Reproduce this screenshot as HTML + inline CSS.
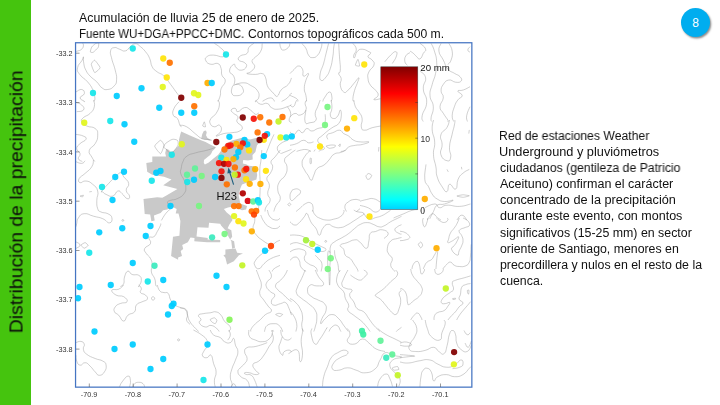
<!DOCTYPE html>
<html><head><meta charset="utf-8"><title>Distribución de la precipitación</title>
<style>
html,body{margin:0;padding:0;background:#fff;}
body{width:720px;height:405px;position:relative;overflow:hidden;font-family:"Liberation Sans",sans-serif;color:#111;}
.bar{position:absolute;left:0;top:0;width:30.8px;height:405px;background:#45C40E;}
.vt{position:absolute;left:0;top:0;white-space:nowrap;transform-origin:0 0;color:#0a0a0a;will-change:transform;}
.ln{position:absolute;white-space:nowrap;transform-origin:0 0;line-height:1;will-change:transform;}
.badge{position:absolute;left:680.7px;top:7.9px;width:29.6px;height:29.6px;border-radius:50%;background:#00ADEF;box-shadow:1.2px 1.6px 2px rgba(0,0,0,.45);}
.badge span{position:absolute;left:0;width:100%;text-align:center;color:#fff;font-size:12px;line-height:1;}
svg{position:absolute;left:0;top:0;will-change:transform;}
svg text{font-family:"Liberation Sans",sans-serif;}
</style></head><body>
<div class="bar"></div>
<div class="vt" style="font-size:18.6px;line-height:1;transform:translate(7.5px,333.26px) rotate(-90deg) scaleX(1.0419);">Distribución de la precipitación</div>
<div class="ln" style="font-size:12.0px;left:79.25px;top:11.75px;transform:scaleX(1.0282);">Acumulación de lluvia 25 de enero de 2025.</div>
<div class="ln" style="font-size:12.0px;left:79.04px;top:28.0px;transform:scaleX(0.9614);">Fuente WU+DGA+PPCC+DMC.</div>
<div class="ln" style="font-size:12.0px;left:247.59px;top:28.0px;transform:scaleX(1.0135);">Contornos topográficos cada 500 m.</div>
<div class="ln" style="font-size:12.3px;left:499.41px;top:129.9px;transform:scaleX(0.9917);">Red de estaciones Weather</div>
<div class="ln" style="font-size:12.3px;left:499.36px;top:146.0px;transform:scaleX(1.0366);">Underground y pluviómetros</div>
<div class="ln" style="font-size:12.3px;left:499.9px;top:162.1px;transform:scaleX(0.9964);">ciudadanos (gentileza de Patricio</div>
<div class="ln" style="font-size:12.3px;left:500.4px;top:178.2px;transform:scaleX(1.0182);">Aceituno) confirman el carácter</div>
<div class="ln" style="font-size:12.3px;left:499.88px;top:194.3px;transform:scaleX(1.0331);">concentrado de la precipitación</div>
<div class="ln" style="font-size:12.3px;left:499.89px;top:210.4px;transform:scaleX(1.0182);">durante este evento, con montos</div>
<div class="ln" style="font-size:12.3px;left:499.9px;top:226.5px;transform:scaleX(1.0058);">significativos (15-25 mm) en sector</div>
<div class="ln" style="font-size:12.3px;left:499.9px;top:242.6px;transform:scaleX(1.0017);">oriente de Santiago, menores en</div>
<div class="ln" style="font-size:12.3px;left:499.65px;top:258.7px;transform:scaleX(1.0052);">precordillera y nulos en el resto de la</div>
<div class="ln" style="font-size:12.3px;left:499.9px;top:274.8px;transform:scaleX(1.0024);">cuenca.</div>
<div class="badge"><span style="top:8.8px">8</span></div>
<svg width="720" height="405" viewBox="0 0 720 405">
<defs><linearGradient id="jet" x1="0" y1="1" x2="0" y2="0"><stop offset="0" stop-color="#00D2FF"/><stop offset="0.067" stop-color="#00FFFF"/><stop offset="0.25" stop-color="#80FF80"/><stop offset="0.44" stop-color="#FFFF00"/><stop offset="0.625" stop-color="#FF8000"/><stop offset="0.813" stop-color="#FF0000"/><stop offset="1" stop-color="#800000"/></linearGradient><clipPath id="cp"><rect x="75.5" y="42.5" width="396.5" height="344.7"/></clipPath></defs>
<g clip-path="url(#cp)">
<path d="M181.2,131.6 L190.0,135.6 L200.4,140.1 L205.6,142.0 L210.1,144.6 L216.0,147.3 L214.6,149.0 L212.4,151.1 L211.3,153.5 L210.2,155.1 L207.6,156.9 L204.0,160.0 L203.8,163.0 L204.9,164.4 L208.4,162.7 L213.8,158.2 L218.2,154.7 L220.9,151.1 L223.0,147.0 L226.0,143.5 L232.0,140.5 L242.0,137.8 L250.0,139.5 L258.9,137.2 L260.9,138.5 L260.2,141.9 L257.0,145.2 L255.4,151.9 L252.5,155.0 L252.7,159.5 L248.0,160.5 L243.2,160.0 L242.8,163.5 L246.0,164.2 L249.0,165.8 L253.5,166.3 L256.0,168.5 L257.2,175.0 L256.4,179.5 L253.7,180.5 L250.3,181.5 L242.0,184.5 L240.3,188.5 L238.6,195.2 L240.3,203.6 L247.0,206.1 L246.1,209.4 L242.0,210.3 L233.1,206.5 L228.0,207.5 L223.9,208.9 L226.7,212.6 L231.0,216.0 L232.5,220.0 L229.4,224.6 L227.6,228.3 L231.3,230.2 L232.2,236.7 L230.0,239.4 L234.1,241.3 L235.0,247.8 L232.2,248.7 L231.3,241.3 L228.5,236.7 L226.0,231.0 L221.1,225.6 L220.2,223.7 L209.1,222.8 L208.5,227.8 L197.5,227.2 L196.5,236.5 L207.8,238.0 L207.5,239.6 L220.2,240.0 L220.2,242.3 L209.6,242.3 L207.2,242.2 L194.3,241.2 L194.5,238.0 L190.5,237.5 L187.8,242.2 L182.2,245.0 L183.2,249.0 L180.7,251.0 L182.0,256.0 L178.1,257.5 L178.1,259.8 L171.1,256.1 L173.0,236.7 L179.4,235.7 L180.4,220.9 L178.5,213.5 L175.7,213.5 L176.7,208.9 L172.0,206.5 L167.3,209.5 L163.1,210.3 L160.6,212.9 L153.9,215.4 L154.7,220.4 L151.4,221.2 L150.2,214.5 L144.7,214.0 L143.5,198.9 L157.2,197.2 L162.3,197.8 L166.4,195.6 L177.4,188.9 L163.2,185.2 L171.5,179.6 L164.0,176.8 L152.2,174.8 L147.2,171.7 L146.3,163.0 L152.3,162.0 L152.3,156.6 L166.0,156.6 L165.2,153.1 L166.2,148.7 L168.6,149.7 L171.0,152.0 L174.0,150.7 L179.0,145.2 L179.0,139.8 L180.4,133.9Z" fill="#C9C9C9"/>
<path d="M201.2,138.4 L202.3,133.9 L203.8,130.9 L206.0,130.5 L206.7,132.4 L206.0,135.3 L207.5,137.9 L210.8,139.8 L210.5,140.7 L205.0,139.4Z" fill="#C9C9C9"/>
<path d="M225.4,249.4 L235.5,248.6 L237.2,252.8 L243.0,253.6 L238.9,255.3 L233.8,261.2 L227.1,264.5 L225.4,257.8 L223.4,255.3 L225.4,254.5Z" fill="#C9C9C9"/>
<g fill="none" stroke="#8a8a8a" stroke-width="0.5" stroke-opacity="0.8" stroke-linejoin="round">
<path d="M83.4,56.8C83.0,57.8 83.5,57.7 81.9,60.6C80.3,63.5 78.1,64.0 77.6,67.7C77.0,71.4 77.0,70.6 79.7,74.4C82.4,78.2 84.2,77.9 87.6,81.9C91.1,86.0 90.7,85.5 92.7,89.5C94.6,93.5 94.4,93.8 94.8,97.0C95.3,100.2 94.4,100.3 94.2,101.5"/>
<path d="M82.4,42.5C82.7,43.4 83.7,44.1 83.4,45.9C83.1,47.7 82.9,48.1 81.4,49.4C79.9,50.7 79.3,50.4 77.9,50.9C76.5,51.4 76.5,51.3 76.0,51.4"/>
<path d="M181.5,98.3C180.4,97.1 180.3,97.4 177.4,93.7C174.5,90.0 174.3,89.2 170.7,84.5C167.1,79.8 167.5,79.4 164.0,76.1C160.4,72.7 160.4,74.3 157.2,71.9C154.1,69.4 154.2,70.4 152.2,66.8C150.2,63.3 151.5,62.5 149.7,58.5C147.9,54.4 148.0,54.9 145.5,51.7C143.0,48.6 143.2,48.9 140.5,46.7C137.8,44.6 138.1,43.7 135.4,43.7C132.8,43.7 133.1,44.8 130.4,46.7C127.7,48.6 128.3,50.2 125.4,50.9C122.5,51.6 122.4,50.1 119.5,49.2C116.6,48.3 116.8,47.1 114.5,47.6C112.1,48.0 111.3,47.8 110.6,50.9C109.9,54.0 110.8,54.4 111.9,59.3C113.1,64.2 113.7,64.0 115.0,69.4C116.2,74.7 116.9,75.0 116.6,79.4C116.4,83.9 116.3,83.5 114.0,86.1C111.6,88.8 111.0,89.0 107.8,89.5C104.5,89.9 104.8,89.8 101.9,87.8C99.0,85.8 100.0,85.1 96.8,81.9C93.7,78.8 93.0,79.2 90.1,76.1C87.2,72.9 87.6,73.6 85.9,70.2C84.2,66.8 84.4,67.1 83.8,63.5C83.1,59.9 83.5,58.6 83.4,56.8"/>
<path d="M91.3,64.2C91.3,63.2 94.0,59.9 94.7,60.2C95.4,60.5 100.1,66.7 100.1,67.7C100.1,68.7 95.4,72.9 94.7,72.6C94.0,72.3 91.3,65.2 91.3,64.2Z"/>
<path d="M90.3,51.9C90.2,51.4 91.3,47.6 91.8,46.9C92.2,46.2 95.1,43.8 95.7,43.5C96.3,43.2 98.5,42.7 98.7,43.0C98.9,43.3 98.7,46.6 98.2,47.4C97.7,48.2 93.9,51.9 93.2,52.3C92.5,52.7 90.4,52.4 90.3,51.9Z"/>
<path d="M75.9,92.0C77.4,91.3 79.5,89.0 81.7,89.5C84.0,89.9 84.7,91.5 84.3,93.7C83.8,95.9 80.1,95.9 80.1,97.9C80.1,99.9 83.3,100.3 84.3,101.2C85.2,102.2 83.8,101.4 83.7,101.5"/>
<path d="M93.5,100.0C93.7,101.8 95.2,103.1 94.3,106.7C93.4,110.3 93.0,110.5 90.1,113.4C87.2,116.3 85.7,115.4 83.4,117.6C81.2,119.9 80.9,119.6 81.7,121.8C82.6,124.0 83.2,124.2 86.8,126.0C90.4,127.8 92.3,126.1 95.2,128.5C98.1,131.0 97.7,131.2 97.7,135.2C97.7,139.3 97.4,139.6 95.2,143.6C92.9,147.7 90.2,146.8 89.3,150.3C88.4,153.9 90.3,154.1 91.8,157.0C93.3,160.0 94.0,160.3 94.8,161.5"/>
<path d="M75.9,102.5C77.4,103.2 79.7,103.0 81.7,105.0C83.8,107.0 84.8,108.3 83.4,110.1C82.1,111.9 78.5,111.3 76.7,111.7"/>
<path d="M75.9,134.4C77.9,134.8 80.7,134.7 83.4,136.1C86.1,137.4 86.8,137.4 85.9,139.4C85.0,141.4 82.5,141.2 80.1,143.6C77.6,146.1 76.7,146.0 76.7,148.7C76.7,151.3 79.6,151.0 80.1,153.7C80.5,156.4 77.8,156.6 78.4,158.7C79.0,160.8 81.2,160.8 82.3,161.5"/>
<path d="M179.1,101.7C177.7,103.5 175.6,104.8 174.0,108.4C172.5,112.0 172.3,112.4 173.2,115.1C174.1,117.8 175.6,115.8 177.4,118.5C179.2,121.1 178.8,123.0 179.9,125.2C181.0,127.4 181.1,126.3 181.5,126.8"/>
<path d="M154.7,146.1C154.7,145.0 159.8,140.3 160.6,140.3C161.4,140.2 164.0,144.2 164.0,145.3C164.0,146.4 161.4,153.6 160.6,153.7C159.8,153.8 154.7,147.3 154.7,146.1Z"/>
<path d="M164.0,146.1C164.6,143.9 166.1,142.9 169.0,141.1C171.9,139.3 172.4,139.0 174.9,139.4C177.3,139.9 178.0,140.3 178.2,142.8C178.4,145.2 177.7,146.0 175.7,148.7C173.7,151.3 173.1,152.6 170.7,152.9C168.2,153.1 168.3,151.3 166.5,149.5C164.7,147.7 163.3,148.4 164.0,146.1Z"/>
<path d="M214.4,43.4C216.0,44.5 217.6,45.1 220.3,47.6C223.0,50.0 223.8,50.1 224.5,52.6C225.1,55.0 225.7,56.1 222.8,56.8C219.9,57.4 217.8,55.1 213.6,55.1C209.3,55.1 208.9,55.2 206.8,56.8C204.8,58.3 204.9,59.0 206.0,61.0C207.1,63.0 207.9,63.7 211.0,64.3C214.2,65.0 215.1,62.4 217.8,63.5C220.4,64.6 220.0,65.4 221.1,68.5C222.2,71.7 220.8,71.9 221.9,75.2C223.1,78.6 225.5,77.5 225.3,81.1C225.1,84.7 222.4,84.9 221.1,88.7C219.8,92.5 221.1,91.9 220.3,95.4C219.4,98.8 218.6,99.9 218.0,101.5"/>
<path d="M253.8,43.4C252.5,44.5 250.6,44.9 248.8,47.6C247.0,50.2 249.4,51.2 247.1,53.4C244.9,55.7 242.6,54.1 240.4,55.9C238.2,57.7 237.6,58.3 238.7,60.1C239.8,61.9 242.6,60.9 244.6,62.7C246.6,64.4 247.2,64.8 246.3,66.8C245.4,68.9 243.9,70.0 241.2,70.2C238.6,70.4 238.2,69.3 236.2,67.7C234.2,66.1 235.5,63.4 233.7,64.3C231.9,65.2 229.5,67.9 229.5,71.0C229.5,74.2 232.3,72.9 233.7,76.1C235.0,79.2 235.0,79.7 234.5,82.8C234.1,85.9 232.7,84.9 232.0,87.8C231.3,90.7 230.9,91.6 232.0,93.7C233.1,95.8 233.5,95.7 236.2,95.7C238.9,95.7 240.3,95.6 242.1,93.7C243.9,91.8 243.8,91.1 242.9,88.7C242.0,86.2 241.2,85.4 238.7,84.5C236.3,83.6 235.0,85.1 233.7,85.3"/>
<path d="M262.2,43.4C261.8,45.6 262.8,47.7 260.5,51.7C258.3,55.8 256.1,55.8 253.8,58.5C251.6,61.1 251.9,59.6 252.1,61.8C252.4,64.0 255.1,64.2 254.7,66.8C254.2,69.5 252.5,70.1 250.5,71.9C248.5,73.7 245.8,72.9 247.1,73.6C248.5,74.2 251.5,74.4 255.5,74.4C259.5,74.4 259.5,72.7 262.2,73.6C264.9,74.5 264.2,74.6 265.6,77.8C266.9,80.9 265.9,81.9 267.2,85.3C268.6,88.7 268.8,88.1 270.6,90.3C272.4,92.6 272.2,92.1 274.0,93.7C275.7,95.3 275.3,97.3 277.3,96.2C279.3,95.1 278.6,92.6 281.5,89.5C284.4,86.4 285.6,87.6 288.2,84.5C290.9,81.4 290.6,79.7 291.5,77.9"/>
<path d="M279.8,43.4C280.1,44.5 279.8,45.8 280.7,47.6C281.6,49.3 281.2,50.1 283.2,50.1C285.2,50.1 286.4,49.3 288.2,47.6C290.0,45.8 289.5,44.5 289.9,43.4"/>
<path d="M235.4,84.5C237.6,84.0 239.7,82.6 243.8,82.8C247.8,83.0 246.9,83.3 250.5,85.3C254.0,87.3 254.9,87.2 257.2,90.3C259.4,93.5 259.3,94.1 258.9,97.0C258.4,100.0 256.3,100.1 255.5,101.2C254.7,102.4 255.8,101.4 255.9,101.5"/>
<path d="M263.0,101.5C263.2,101.2 261.9,101.4 263.9,100.4C265.9,99.4 267.9,97.9 270.6,97.9C273.3,97.9 273.0,99.4 274.0,100.4C275.0,101.4 274.2,101.2 274.3,101.5"/>
<path d="M291.5,93.9C291.3,93.9 291.8,92.6 290.7,93.7C289.6,94.7 289.8,95.8 287.4,97.9C284.9,100.0 283.1,100.5 281.6,101.5"/>
<path d="M301.7,43.4C302.9,44.7 304.1,45.3 305.9,48.4C307.7,51.5 306.7,52.6 308.5,55.1C310.2,57.6 310.2,57.6 312.7,57.6C315.1,57.6 315.4,57.6 317.7,55.1C319.9,52.6 319.9,51.5 321.0,48.4C322.2,45.3 321.7,44.7 321.9,43.4"/>
<path d="M328.6,43.4C327.9,46.0 327.4,48.1 326.1,53.4C324.7,58.8 325.1,58.1 323.6,63.5C322.0,68.9 320.9,69.1 320.2,73.6C319.5,78.0 319.5,79.4 321.0,80.3C322.6,81.2 323.6,80.0 326.1,76.9C328.5,73.8 328.5,73.9 330.3,68.5C332.1,63.2 331.9,62.1 332.8,56.8C333.7,51.4 333.2,52.0 333.6,48.4C334.1,44.8 334.2,44.7 334.5,43.4"/>
<path d="M338.7,43.4C338.9,46.9 339.0,49.6 339.5,56.8C339.9,63.9 340.6,65.7 340.3,70.2C340.1,74.7 338.4,71.3 338.7,73.6C338.9,75.8 340.7,75.5 341.2,78.6C341.6,81.7 339.7,81.7 340.3,85.3C341.0,88.9 341.7,90.7 343.7,92.0C345.7,93.4 345.2,92.6 347.9,90.3C350.6,88.1 350.9,87.0 353.8,83.6C356.7,80.3 357.9,77.8 358.8,77.8C359.7,77.8 358.2,80.3 357.1,83.6C356.0,87.0 355.7,86.3 354.6,90.3C353.5,94.4 353.1,95.7 352.9,98.7C352.7,101.7 353.7,100.8 353.9,101.5"/>
<path d="M352.9,43.4C353.8,44.9 356.1,46.1 356.3,49.2C356.5,52.4 354.2,52.9 353.8,55.1C353.3,57.3 353.7,58.5 354.6,57.6C355.5,56.7 355.1,54.0 357.1,51.7C359.1,49.5 359.0,49.2 362.1,49.2C365.3,49.2 366.6,50.6 368.9,51.7C371.1,52.9 370.8,52.1 370.5,53.4C370.3,54.8 367.6,55.0 368.0,56.8C368.5,58.6 370.6,57.9 372.2,60.1C373.8,62.4 374.8,62.0 373.9,65.2C373.0,68.3 370.4,68.3 368.9,71.9C367.3,75.5 367.6,75.0 368.0,78.6C368.5,82.2 368.5,82.2 370.5,85.3C372.6,88.4 373.6,87.7 375.6,90.3C377.6,93.0 378.5,92.9 378.1,95.4C377.6,97.8 373.2,98.7 373.9,99.6C374.6,100.5 378.8,98.9 380.6,98.7"/>
<path d="M358.0,59.3C358.3,59.4 359.8,65.5 359.6,66.0C359.4,66.5 355.6,65.7 355.4,65.2C355.3,64.6 357.6,59.2 358.0,59.3Z"/>
<path d="M290.0,73.6C291.1,72.4 292.0,71.4 294.2,69.4C296.4,67.3 296.2,66.0 298.4,66.0C300.6,66.0 301.2,66.7 302.6,69.4C303.9,72.0 301.9,75.0 303.4,76.1C305.0,77.2 307.8,72.4 308.5,73.6C309.1,74.7 307.1,76.2 305.9,80.3C304.8,84.3 304.3,84.6 304.3,88.7C304.3,92.7 305.3,91.9 305.9,95.4C306.6,98.8 306.4,99.9 306.6,101.5"/>
<path d="M290.0,95.4C291.8,96.3 294.6,97.1 296.7,98.7C298.8,100.4 297.5,100.8 297.8,101.5"/>
<path d="M322.8,101.5C323.3,100.5 322.6,100.4 324.4,97.9C326.2,95.4 327.4,92.2 329.4,92.0C331.4,91.8 331.5,94.5 331.9,97.0C332.4,99.6 331.4,100.3 331.2,101.5"/>
<path d="M384.8,61.8C386.4,60.0 387.8,57.8 390.7,55.1C393.6,52.4 394.1,51.5 395.7,51.7C397.3,52.0 397.4,52.8 396.5,55.9C395.6,59.1 393.5,61.5 392.3,63.5"/>
<path d="M410.0,52.6C408.8,53.5 407.1,53.5 405.8,55.9C404.4,58.4 404.5,59.4 404.9,61.8C405.4,64.3 406.8,64.3 407.4,65.2"/>
<path d="M420.0,43.3C421.5,44.8 424.7,46.2 425.6,48.9C426.4,51.6 424.8,50.7 423.3,53.3C421.9,56.0 421.8,58.0 420.0,58.9C418.2,59.8 418.4,58.1 416.7,56.7C414.9,55.2 415.1,54.8 413.3,53.3C411.6,51.9 410.9,51.7 410.0,51.1"/>
<path d="M431.1,43.3C432.0,45.4 433.0,46.1 434.4,51.1C435.9,56.1 436.4,56.3 436.7,62.2C437.0,68.1 436.7,67.4 435.6,73.3C434.4,79.3 433.7,78.5 432.2,84.4C430.7,90.4 429.7,89.6 430.0,95.6C430.3,101.5 433.0,100.7 433.3,106.7C433.6,112.6 431.5,113.8 431.1,117.8C430.7,121.7 431.6,120.5 431.8,121.5"/>
<path d="M441.1,43.3C440.5,45.4 438.3,46.7 438.9,51.1C439.5,55.6 441.0,55.3 443.3,60.0C445.7,64.7 444.8,65.3 447.8,68.9C450.7,72.4 451.2,71.3 454.4,73.3C457.7,75.4 458.2,74.6 460.0,76.7C461.8,78.7 462.3,79.6 461.1,81.1C459.9,82.6 458.8,82.5 455.6,82.2C452.3,81.9 452.1,79.4 448.9,80.0C445.6,80.6 445.4,81.5 443.3,84.4C441.3,87.4 441.1,87.6 441.1,91.1C441.1,94.7 443.6,93.6 443.3,97.8C443.0,101.9 440.0,102.5 440.0,106.7C440.0,110.8 441.3,109.8 443.3,113.3C445.4,116.9 446.6,117.8 447.8,120.0C448.9,122.2 447.7,121.1 447.6,121.5"/>
<path d="M448.9,43.3C449.8,45.4 451.6,46.7 452.2,51.1C452.8,55.6 452.3,56.4 451.1,60.0C449.9,63.6 448.7,63.3 447.8,64.4"/>
<path d="M470.0,86.7C468.2,87.6 466.6,88.8 463.3,90.0C460.1,91.2 458.1,89.6 457.8,91.1C457.5,92.6 462.2,93.2 462.2,95.6C462.2,97.9 459.9,97.0 457.8,100.0C455.7,103.0 455.9,102.5 454.4,106.7C453.0,110.8 452.4,111.6 452.2,115.6C452.0,119.5 453.3,119.9 453.7,121.5"/>
<path d="M470.0,46.7C469.4,47.6 467.8,48.5 467.8,50.0C467.8,51.5 469.4,51.6 470.0,52.2"/>
<path d="M420.0,71.1C421.5,72.9 424.7,73.0 425.6,77.8C426.4,82.5 423.0,82.4 423.3,88.9C423.6,95.4 427.0,95.1 426.7,102.2C426.4,109.3 423.1,110.4 422.2,115.6C421.3,120.7 422.9,119.9 423.2,121.5"/>
<path d="M470.0,106.7C469.1,109.0 467.4,111.6 466.7,115.6C466.0,119.5 467.2,119.9 467.4,121.5"/>
<path d="M217.8,100.0C218.2,101.3 219.9,101.5 219.4,105.0C219.0,108.6 218.3,109.8 216.1,113.4C213.8,117.0 212.6,115.8 211.0,118.5C209.5,121.1 209.3,121.3 210.2,123.5C211.1,125.7 211.9,126.4 214.4,126.8C216.9,127.3 217.6,124.0 219.4,125.2C221.2,126.3 222.0,128.1 221.1,131.0C220.2,133.9 215.4,135.4 216.1,136.1C216.7,136.7 219.4,134.5 223.6,133.6C227.9,132.7 227.8,133.4 232.0,132.7C236.3,132.0 236.9,132.6 239.6,131.0C242.2,129.5 242.8,129.3 242.1,126.8C241.4,124.4 238.2,124.5 237.0,121.8C235.9,119.1 238.8,119.0 237.9,116.8C237.0,114.5 235.5,115.2 233.7,113.4C231.9,111.6 230.7,111.4 231.2,110.1C231.6,108.7 233.6,107.9 235.4,108.4C237.2,108.8 235.4,112.0 237.9,111.7C240.3,111.5 241.2,108.0 244.6,107.6C248.0,107.1 247.6,108.3 250.5,110.1C253.4,111.9 253.3,113.6 255.5,114.3C257.7,114.9 258.0,113.0 258.9,112.6"/>
<path d="M180.0,125.2C181.8,125.6 182.7,124.6 186.7,126.8C190.7,129.1 191.1,130.4 195.1,133.6C199.1,136.7 198.5,137.0 201.8,138.6C205.2,140.2 205.0,139.0 207.7,139.4C210.4,139.9 210.8,140.0 211.9,140.3"/>
<path d="M202.7,126.0C202.6,125.6 204.1,121.7 204.3,121.8C204.6,121.9 205.6,126.5 205.5,126.8C205.4,127.2 202.7,126.4 202.7,126.0Z"/>
<path d="M255.5,100.0C256.8,101.1 257.4,103.3 260.5,104.2C263.7,105.1 264.3,102.5 267.2,103.4C270.2,104.3 268.5,106.0 271.4,107.6C274.4,109.1 273.9,109.5 278.2,109.2C282.4,109.0 283.8,107.9 287.4,106.7C290.9,105.5 290.4,105.2 291.5,104.7"/>
<path d="M287.4,106.7C288.3,108.5 290.3,109.8 290.7,113.4C291.2,117.0 288.9,117.7 289.1,120.1C289.3,122.6 290.8,121.9 291.5,122.6"/>
<path d="M291.5,137.7C290.4,138.4 290.3,138.7 287.4,140.3C284.5,141.8 283.4,141.4 280.7,143.6C278.0,145.9 277.3,146.0 277.3,148.7C277.3,151.3 279.7,152.2 280.5,153.5"/>
<path d="M281.2,153.5C283.3,152.7 286.3,151.4 289.1,150.3C291.8,149.2 290.8,149.6 291.5,149.4"/>
<path d="M274.0,134.4C273.1,136.4 272.4,137.7 270.6,141.9C268.8,146.2 268.5,147.3 267.2,150.3C266.0,153.4 266.3,152.7 266.0,153.5"/>
<path d="M290.0,116.8C291.3,115.9 292.3,113.9 295.0,113.4C297.7,113.0 297.2,116.0 300.1,115.1C303.0,114.2 304.6,113.2 305.9,110.1C307.3,106.9 304.9,106.0 305.1,103.4C305.3,100.7 306.3,100.9 306.8,100.0"/>
<path d="M290.0,105.0C290.9,105.5 291.8,107.6 293.4,106.7C294.9,105.8 295.0,103.5 295.9,101.7C296.8,99.9 296.5,100.4 296.7,100.0"/>
<path d="M320.2,100.0C319.5,101.8 319.0,103.1 317.7,106.7C316.3,110.3 315.6,109.8 315.2,113.4C314.7,117.0 317.3,117.7 316.0,120.1C314.7,122.6 313.0,122.2 310.1,122.7C307.2,123.1 306.2,125.2 305.1,121.8C304.0,118.5 305.7,113.2 305.9,110.1"/>
<path d="M290.0,131.9C291.1,132.6 292.0,134.8 294.2,134.4C296.4,133.9 296.2,130.6 298.4,130.2C300.6,129.8 300.3,133.2 302.6,132.7C304.8,132.3 304.3,129.0 306.8,128.5C309.2,128.1 308.9,131.0 311.8,131.0C314.7,131.0 314.6,129.6 317.7,128.5C320.8,127.4 321.5,128.6 323.6,126.8C325.6,125.1 324.8,125.2 325.2,121.8C325.7,118.5 325.2,116.3 325.2,114.3"/>
<path d="M331.1,100.0C331.3,102.2 332.2,104.4 331.9,108.4C331.7,112.4 329.8,112.4 330.3,115.1C330.7,117.8 331.6,118.2 333.6,118.5C335.6,118.7 336.0,118.2 337.8,115.9C339.6,113.7 339.4,109.8 340.3,110.1C341.2,110.3 341.6,113.2 341.2,116.8C340.7,120.4 340.7,120.8 338.7,123.5C336.6,126.2 336.3,125.1 333.6,126.8C330.9,128.6 331.5,128.0 328.6,130.2C325.7,132.4 325.6,132.6 322.7,135.2C319.8,137.9 317.9,137.6 317.7,140.3C317.5,143.0 320.1,143.1 321.9,145.3C323.7,147.5 324.8,147.3 324.4,148.7C323.9,150.0 321.6,149.6 320.2,150.3C318.8,151.1 319.3,151.2 319.0,151.5"/>
<path d="M314.0,151.5 L315.2,149.5"/>
<path d="M327.8,139.4C327.6,138.2 325.9,136.7 327.2,134.9C328.6,133.1 329.5,134.0 332.8,132.7C336.1,131.5 336.6,130.0 339.5,130.2C342.4,130.4 341.2,132.0 343.7,133.6C346.2,135.1 346.0,134.3 348.7,136.1C351.4,137.9 350.6,138.7 353.8,140.3C356.9,141.8 356.4,141.5 360.5,141.9C364.5,142.4 368.4,141.3 368.9,141.9C369.3,142.6 365.7,143.6 362.1,144.5C358.6,145.4 359.0,144.6 355.4,145.3C351.9,146.0 351.4,145.6 348.7,147.0C346.0,148.3 347.5,149.1 345.4,150.3C343.2,151.5 342.0,151.2 340.7,151.5"/>
<path d="M326.1,146.1C326.2,145.9 330.3,145.0 331.1,145.0C331.9,144.9 335.0,145.1 335.3,145.3C335.6,145.5 335.0,147.1 334.5,147.3C334.0,147.6 330.1,148.4 329.4,148.3C328.7,148.2 325.9,146.4 326.1,146.1Z"/>
<path d="M338.7,145.3C338.7,145.1 340.2,143.8 340.3,144.0C340.4,144.1 340.1,146.5 340.0,146.6C339.9,146.8 338.6,145.5 338.7,145.3Z"/>
<path d="M353.8,100.0C354.2,101.8 354.1,103.6 355.4,106.7C356.8,109.8 357.0,108.6 358.8,111.7C360.6,114.9 361.5,114.4 362.1,118.5C362.8,122.5 360.6,123.7 361.3,126.8C362.0,130.0 361.8,130.0 364.7,130.2C367.6,130.4 368.0,128.8 372.2,127.7C376.5,126.6 378.4,126.5 380.6,126.0"/>
<path d="M290.0,145.3C291.8,144.9 293.1,145.0 296.7,143.6C300.3,142.3 300.3,140.5 303.4,140.3C306.6,140.0 305.8,142.3 308.5,142.8C311.1,143.2 312.1,142.2 313.5,141.9"/>
<path d="M296.6,151.5C297.5,151.2 297.6,150.9 300.1,150.3C302.6,149.8 303.3,149.3 305.9,149.5C308.6,149.7 309.1,150.6 310.1,151.2C311.1,151.7 309.8,151.4 309.7,151.5"/>
<path d="M378.9,147.0 L378.5,151.5"/>
<path d="M93.5,160.0C93.0,161.8 94.0,163.1 91.8,166.7C89.6,170.3 88.5,170.3 85.1,173.4C81.7,176.6 80.6,176.0 79.2,178.5C77.9,180.9 78.3,182.0 80.1,182.7C81.9,183.3 82.6,180.5 85.9,181.0C89.3,181.4 89.5,181.6 92.7,184.3C95.8,187.0 96.6,186.8 97.7,191.0C98.8,195.3 96.8,195.6 96.8,200.3C96.8,205.0 96.6,205.5 97.7,208.7C98.8,211.8 98.4,210.7 101.0,212.0C103.7,213.4 104.8,212.1 107.8,213.7C110.7,215.3 111.5,215.4 111.9,217.9C112.4,220.3 111.9,222.7 109.4,222.9C107.0,223.1 107.0,220.5 102.7,218.7C98.5,216.9 98.4,217.6 93.5,216.2C88.6,214.9 88.3,213.2 84.3,213.7C80.2,214.1 80.4,215.2 78.4,217.9C76.4,220.6 77.3,221.5 76.7,223.8C76.1,226.1 76.3,225.8 76.2,226.5"/>
<path d="M75.9,161.7C77.4,162.1 79.3,163.6 81.7,163.4C84.2,163.1 84.2,161.5 85.1,160.8"/>
<path d="M101.9,191.0C103.4,188.8 105.0,187.3 108.6,183.5C112.2,179.7 111.9,179.7 115.3,176.8C118.7,173.9 118.9,172.6 121.2,172.6C123.4,172.6 121.7,173.9 123.7,176.8C125.7,179.7 128.1,179.9 128.7,183.5C129.4,187.1 126.0,186.8 126.2,190.2C126.4,193.6 129.3,193.8 129.6,196.1C129.8,198.3 129.1,199.3 127.0,198.6C125.0,197.9 124.5,195.6 122.0,193.6C119.6,191.5 120.3,190.4 117.8,191.0C115.4,191.7 115.9,195.2 112.8,196.1C109.7,197.0 108.8,195.5 106.1,194.4C103.4,193.3 103.8,192.8 102.7,191.9C101.6,191.0 100.3,193.3 101.9,191.0Z"/>
<path d="M80.1,196.1C80.1,195.9 83.2,195.2 83.4,195.2C83.6,195.3 82.9,196.8 82.6,196.9C82.3,197.0 80.0,196.2 80.1,196.1Z"/>
<path d="M89.3,191.9 L91.8,191.5"/>
<path d="M123.8,220.4C123.8,220.7 123.7,220.8 123.5,221.0C123.2,221.3 123.2,221.3 122.9,221.3C122.5,221.3 122.5,221.3 122.2,221.0C122.0,220.8 122.0,220.7 122.0,220.4C122.0,220.1 122.0,220.0 122.2,219.8C122.5,219.5 122.5,219.5 122.9,219.5C123.2,219.5 123.2,219.5 123.5,219.8C123.7,220.0 123.8,220.1 123.8,220.4Z"/>
<path d="M170.7,208.7C169.3,210.0 168.1,210.6 165.6,213.7C163.2,216.8 162.6,218.6 161.4,220.4"/>
<path d="M214.8,147.6C212.7,148.3 212.3,148.8 207.1,150.2C201.9,151.6 200.8,151.3 195.4,152.9C190.0,154.5 190.4,153.7 187.0,156.1C183.6,158.5 184.3,158.8 182.8,162.0C181.3,165.2 181.9,165.0 181.3,168.0C180.7,171.0 180.0,170.2 180.7,173.4C181.4,176.6 182.7,176.5 184.1,180.1C185.5,183.7 185.8,183.2 185.8,186.8C185.8,190.4 186.3,190.5 184.1,193.6C181.9,196.7 181.0,196.8 177.4,198.6C173.8,200.4 173.3,199.3 170.7,200.3C168.1,201.3 167.6,201.0 167.5,202.5C167.4,204.0 169.7,205.1 170.5,206.0"/>
<path d="M261.8,150.0C261.6,152.7 261.5,154.7 261.0,160.1C260.4,165.4 260.0,163.9 259.8,170.1C259.6,176.4 260.1,176.4 260.1,183.6C260.1,190.7 260.2,190.3 259.8,197.0C259.4,203.7 258.9,204.9 258.5,208.7C258.0,212.6 258.1,210.8 258.0,211.5"/>
<path d="M280.3,150.0C278.9,151.8 277.7,153.6 275.2,156.7C272.8,159.8 271.7,159.1 271.0,161.7C270.4,164.4 272.9,163.6 272.7,166.8C272.5,169.9 271.8,170.4 270.2,173.5C268.6,176.6 267.1,175.4 266.8,178.5C266.6,181.7 269.1,181.2 269.4,185.2C269.6,189.3 267.5,189.6 267.7,193.6C267.9,197.7 270.6,196.8 270.2,200.3C269.8,203.9 267.4,204.1 266.0,207.0C264.6,210.0 265.3,210.3 265.0,211.5"/>
<path d="M295.4,150.0C293.6,151.3 291.6,152.3 288.7,155.0C285.7,157.7 284.9,156.9 284.5,160.1C284.0,163.2 286.8,162.8 287.0,166.8C287.2,170.8 287.3,171.1 285.3,175.2C283.3,179.2 281.4,177.9 279.4,181.9C277.4,185.9 277.5,185.8 277.8,190.3C278.0,194.7 280.7,194.6 280.3,198.7C279.8,202.7 277.8,201.9 276.1,205.4C274.3,208.8 274.4,209.9 273.8,211.5"/>
<path d="M310.5,150.0C308.9,151.8 306.8,153.1 304.6,156.7C302.4,160.3 302.1,159.8 302.1,163.4C302.1,167.0 303.0,167.0 304.6,170.1C306.2,173.3 306.2,172.5 308.0,175.2C309.7,177.9 309.7,180.2 311.3,180.2C312.9,180.2 312.3,178.3 313.8,175.2C315.4,172.0 314.5,171.1 317.2,168.5C319.9,165.8 320.8,167.3 323.9,165.1C327.0,162.9 326.2,163.0 328.9,160.1C331.6,157.2 330.8,156.2 334.0,154.2C337.1,152.2 337.5,153.6 340.7,152.5C343.8,151.4 344.4,150.7 345.7,150.0"/>
<path d="M310.1,158.4C310.2,158.0 311.2,158.0 311.3,158.4C311.4,158.8 311.4,163.0 311.3,163.4C311.2,163.8 310.2,163.8 310.1,163.4C310.0,163.0 310.0,158.8 310.1,158.4Z"/>
<path d="M291.2,191.9C292.2,190.2 291.7,190.1 293.7,189.4C295.7,188.8 296.9,188.5 298.7,189.4C300.5,190.3 300.9,191.0 300.4,192.8C300.0,194.6 298.8,194.4 297.0,196.1C295.3,197.9 295.3,198.4 293.7,199.5C292.1,200.6 292.2,201.2 291.2,200.3C290.2,199.4 290.0,198.4 290.0,196.1C290.0,193.9 290.2,193.7 291.2,191.9Z"/>
<path d="M287.8,204.5C287.8,204.3 289.2,202.9 289.5,202.9C289.7,202.9 290.9,204.3 290.8,204.5C290.8,204.8 289.4,205.9 289.2,205.9C288.9,205.9 287.8,204.8 287.8,204.5Z"/>
<path d="M296.1,211.5C297.2,210.5 297.9,210.0 300.4,207.9C302.9,205.8 302.8,205.0 305.4,203.7C308.1,202.3 308.5,202.0 310.5,202.9C312.5,203.7 312.5,204.7 313.0,207.0C313.5,209.4 312.6,210.3 312.4,211.5"/>
<path d="M360.0,200.3C358.4,200.1 357.2,199.0 354.1,199.5C351.0,199.9 350.7,200.2 348.2,202.0C345.8,203.8 345.4,203.7 344.9,206.2C344.4,208.7 346.0,210.1 346.4,211.5"/>
<path d="M360.0,208.7 L356.5,211.5"/>
<path d="M365.9,176.0C365.9,175.5 367.9,173.6 368.4,173.5C368.9,173.4 371.6,174.7 371.7,175.2C371.9,175.6 370.4,178.2 370.1,178.5C369.7,178.9 367.9,179.6 367.6,179.4C367.2,179.2 365.8,176.5 365.9,176.0Z"/>
<path d="M360.0,201.2C361.8,200.7 363.1,200.2 366.7,199.5C370.3,198.8 369.8,198.0 373.4,198.7C377.0,199.3 378.3,201.1 380.1,202.0"/>
<path d="M360.0,205.4C362.2,206.0 364.4,206.1 368.4,207.9C372.4,209.7 372.0,211.6 375.1,212.1C378.2,212.5 378.8,210.2 380.1,209.6"/>
<path d="M393.6,218.0C396.2,216.8 398.7,215.8 403.6,213.8C408.5,211.7 408.2,211.5 412.0,210.4C415.8,209.3 416.3,209.8 417.9,209.6"/>
<path d="M160.8,223.5C160.6,224.1 161.2,223.6 160.3,225.8C159.3,228.0 158.9,228.8 157.2,231.7C155.5,234.6 156.1,235.2 153.9,236.7C151.7,238.3 149.8,235.8 148.9,237.6C148.0,239.4 151.7,240.5 150.5,243.5C149.4,246.4 145.8,245.8 144.7,248.5C143.5,251.2 144.8,250.8 146.3,253.5C147.9,256.2 149.0,255.4 150.5,258.6C152.1,261.7 152.0,261.7 152.2,265.3C152.4,268.8 150.7,268.4 151.4,272.0C152.0,275.6 153.6,275.3 154.7,278.7C155.9,282.0 155.1,282.5 155.6,284.6C156.1,286.6 156.4,286.0 156.7,286.5"/>
<path d="M75.9,241.8C77.0,242.7 80.1,243.3 80.1,245.1C80.1,246.9 77.0,247.6 75.9,248.5"/>
<path d="M80.9,245.1C81.0,244.7 84.5,242.6 85.1,242.6C85.7,242.6 88.2,245.0 88.1,245.5C88.1,245.9 84.9,248.2 84.3,248.2C83.7,248.1 80.8,245.6 80.9,245.1Z"/>
<path d="M120.4,286.5C121.2,285.8 122.6,286.3 123.7,283.7C124.8,281.2 123.4,280.4 124.5,277.0C125.6,273.7 125.9,271.8 127.9,271.1C129.9,270.5 129.2,273.4 132.1,274.5C135.0,275.6 136.3,273.8 138.8,275.3C141.3,276.9 141.3,277.5 141.3,280.4C141.3,283.3 139.4,284.6 138.8,286.2C138.1,287.9 138.8,286.4 138.9,286.5"/>
<path d="M290.0,221.7C291.3,222.6 292.3,225.1 295.0,225.1C297.7,225.1 297.6,224.0 300.1,221.7C302.5,219.5 302.5,218.9 304.3,216.7C306.1,214.5 305.4,212.9 306.8,213.4C308.1,213.8 308.0,215.7 309.3,218.4C310.6,221.1 310.0,220.7 311.8,223.4C313.6,226.1 314.0,225.3 316.0,228.5C318.0,231.6 317.6,235.2 319.4,235.2C321.2,235.2 320.5,231.4 322.7,228.5C325.0,225.5 324.8,224.7 327.8,224.3C330.7,223.8 330.3,225.9 333.6,226.8C337.0,227.7 336.8,228.1 340.3,227.6C343.9,227.2 343.5,226.9 347.0,225.1C350.6,223.3 350.6,222.9 353.8,220.9C356.9,218.9 356.1,219.6 358.8,217.6C361.5,215.5 364.3,214.9 363.8,213.4C363.4,211.8 359.8,212.6 357.1,211.7C354.4,210.8 354.7,210.4 353.8,210.0"/>
<path d="M312.7,210.0C313.3,211.3 313.2,212.8 315.2,215.0C317.2,217.3 317.1,217.0 320.2,218.4C323.3,219.7 323.3,219.8 326.9,220.1C330.5,220.3 330.0,220.1 333.6,219.2C337.2,218.3 337.7,218.5 340.3,216.7C343.0,214.9 342.8,214.3 343.7,212.5C344.6,210.7 343.7,210.7 343.7,210.0"/>
<path d="M290.0,235.2C291.8,235.2 293.1,234.7 296.7,235.2C300.3,235.6 299.8,235.3 303.4,236.8C307.0,238.4 306.6,239.0 310.1,241.0C313.7,243.1 313.5,242.7 316.8,244.4C320.2,246.1 320.3,246.0 322.7,247.2C325.1,248.5 325.3,247.9 325.7,248.9C326.2,250.0 326.1,250.5 324.4,251.1C322.7,251.7 322.3,251.6 319.4,251.1C316.5,250.7 316.8,250.8 313.5,249.4C310.1,248.1 310.4,247.6 306.8,246.1C303.2,244.5 303.2,244.5 300.1,243.6C296.9,242.7 297.7,242.5 295.0,242.7C292.3,242.9 291.3,243.9 290.0,244.4"/>
<path d="M330.3,252.8C330.4,251.0 329.5,249.0 330.6,246.1C331.7,243.2 331.4,244.1 334.5,241.9C337.5,239.6 338.2,239.9 342.0,237.7C345.8,235.4 345.4,236.0 348.7,233.5C352.1,231.0 351.5,230.9 354.6,228.5C357.7,226.0 357.1,225.8 360.5,224.3C363.8,222.7 363.8,222.6 367.2,222.6C370.5,222.6 369.9,223.1 373.1,224.3C376.2,225.4 376.0,226.3 378.9,226.8C381.8,227.2 380.8,227.3 384.0,225.9C387.1,224.6 387.1,223.8 390.7,221.7C394.3,219.7 394.5,219.8 397.4,218.4C400.3,216.9 400.4,216.9 401.5,216.3"/>
<path d="M363.8,213.4C365.2,214.9 365.7,218.1 368.9,219.2C372.0,220.3 372.2,218.4 375.6,217.6C378.9,216.7 378.3,217.2 381.4,215.9C384.6,214.5 384.9,214.1 387.3,212.5C389.8,211.0 389.8,210.7 390.7,210.0"/>
<path d="M384.0,238.5C385.1,237.2 388.6,235.8 388.2,233.5C387.7,231.2 385.6,230.3 382.3,229.8C378.9,229.3 378.8,230.5 375.6,231.5C372.3,232.5 372.0,230.9 370.2,233.5C368.4,236.0 369.9,237.1 368.9,241.0C367.8,245.0 368.8,248.0 366.3,248.3C363.9,248.5 362.8,244.1 359.6,241.9C356.5,239.6 358.0,239.6 354.6,239.9C351.2,240.1 350.9,241.3 347.0,242.7C343.2,244.1 341.2,243.4 340.3,245.2C339.4,247.0 342.3,246.7 343.7,249.4C345.0,252.1 343.6,252.8 345.4,255.3C347.2,257.8 348.2,256.4 350.4,258.7C352.6,260.9 352.0,261.0 353.8,263.7C355.5,266.4 356.0,266.6 357.1,268.7C358.3,270.8 357.8,270.8 358.0,271.5"/>
<path d="M401.5,224.7C400.4,225.3 399.2,225.3 397.4,226.8C395.6,228.2 394.4,228.3 394.9,230.1C395.3,231.9 397.3,232.4 399.1,233.5C400.8,234.5 400.8,233.9 401.5,234.1"/>
<path d="M401.5,237.5C400.4,237.8 400.3,237.6 397.4,238.5C394.5,239.5 393.4,238.4 390.7,241.0C388.0,243.7 387.8,245.0 387.3,248.6C386.9,252.2 387.7,251.8 389.0,254.5C390.3,257.1 391.9,255.7 392.3,258.7C392.8,261.6 390.2,262.2 390.7,265.4C391.1,268.5 393.0,268.8 394.0,270.4C395.1,272.0 394.4,271.2 394.5,271.5"/>
<path d="M290.0,251.9C291.3,251.3 291.9,250.1 295.0,249.4C298.2,248.8 298.8,248.5 301.7,249.4C304.7,250.3 305.3,250.3 305.9,252.8C306.6,255.2 303.6,255.7 304.3,258.7C304.9,261.6 305.5,261.5 308.5,263.7C311.4,265.9 312.8,265.0 315.2,267.0C317.6,269.1 316.8,270.3 317.4,271.5"/>
<path d="M290.0,260.3C291.3,259.4 292.6,257.0 295.0,257.0C297.5,257.0 297.7,257.7 299.2,260.3C300.8,263.0 299.1,264.1 300.9,267.0C302.7,270.0 304.7,270.3 306.1,271.5"/>
<path d="M321.1,271.5C321.3,269.4 322.6,267.1 321.9,263.7C321.2,260.3 320.3,260.9 318.5,258.7C316.7,256.4 316.1,256.2 315.2,255.3"/>
<path d="M328.1,271.5C328.0,266.7 327.2,258.3 327.8,253.6C328.3,248.9 329.7,250.8 330.3,254.0C330.9,257.1 330.2,260.7 329.9,265.4C329.7,270.0 329.6,269.9 329.4,271.5"/>
<path d="M334.5,250.3C334.7,252.1 334.4,253.4 335.3,257.0C336.2,260.6 336.9,260.1 337.8,263.7C338.7,267.3 338.1,268.3 338.7,270.4C339.2,272.5 339.5,271.2 339.8,271.5"/>
<path d="M326.6,241.4C326.6,241.7 326.6,241.8 326.4,242.0C326.1,242.3 326.1,242.3 325.7,242.3C325.4,242.3 325.3,242.3 325.1,242.0C324.9,241.8 324.8,241.7 324.8,241.4C324.8,241.0 324.9,241.0 325.1,240.7C325.3,240.5 325.4,240.5 325.7,240.5C326.1,240.5 326.1,240.5 326.4,240.7C326.6,241.0 326.6,241.0 326.6,241.4Z"/>
<path d="M254.0,210.0C254.2,212.7 255.0,215.1 254.8,220.1C254.6,225.0 252.7,224.4 253.1,228.5C253.6,232.5 254.0,232.0 256.5,235.2C258.9,238.3 259.4,238.0 262.3,240.2C265.3,242.4 264.9,242.0 267.4,243.6C269.8,245.1 270.5,245.4 271.6,246.1"/>
<path d="M260.7,215.0C261.6,216.8 261.8,218.6 264.0,221.7C266.3,224.9 265.9,225.0 269.1,226.8C272.2,228.6 272.9,228.7 275.8,228.5C278.7,228.2 278.8,226.6 280.0,225.9"/>
<path d="M267.4,210.0C268.1,211.8 267.7,214.0 269.9,216.7C272.1,219.4 273.1,219.6 275.8,220.1C278.5,220.5 278.8,218.8 280.0,218.4"/>
<path d="M280.0,240.2C278.4,241.1 277.0,240.9 274.1,243.6C271.2,246.2 272.2,247.6 269.1,250.3C265.9,253.0 265.9,250.9 262.3,253.6C258.8,256.3 257.7,257.2 255.6,260.3C253.6,263.5 253.9,263.1 254.8,265.4C255.7,267.6 256.5,269.2 259.0,268.7C261.5,268.3 260.9,266.4 264.0,263.7C267.2,261.0 266.5,260.9 270.7,258.7C275.0,256.4 277.5,256.2 280.0,255.3"/>
<path d="M280.0,265.4C278.4,266.3 276.2,267.1 274.1,268.7C272.0,270.4 272.7,270.8 272.2,271.5"/>
<path d="M256.3,270.0C257.0,271.8 257.5,272.7 258.9,276.7C260.2,280.7 261.2,280.6 261.4,285.1C261.6,289.6 259.0,289.5 259.7,293.5C260.4,297.5 261.7,296.8 263.9,300.2C266.1,303.6 266.1,303.2 268.1,306.1C270.1,309.0 272.1,308.9 271.4,311.1C270.8,313.3 268.5,312.2 265.6,314.5C262.7,316.7 263.2,317.0 260.5,319.5C257.9,322.0 258.0,321.2 255.5,323.7C253.0,326.2 252.6,326.6 251.3,328.7C250.1,330.8 250.9,330.8 250.8,331.5"/>
<path d="M268.9,270.0C269.6,271.8 271.9,273.6 271.4,276.7C271.0,279.8 268.6,279.1 267.2,281.7C265.9,284.4 265.5,284.1 266.4,286.8C267.3,289.5 268.4,289.6 270.6,291.8C272.8,294.0 274.6,292.7 274.8,295.2C275.0,297.6 271.7,298.4 271.4,301.0C271.2,303.7 271.5,304.6 274.0,305.2C276.4,305.9 277.5,304.2 280.7,303.6C283.8,302.9 283.5,301.4 285.7,302.7C287.9,304.1 287.5,305.3 289.1,308.6C290.6,311.9 290.8,313.4 291.5,315.1"/>
<path d="M287.4,270.0C286.7,271.3 286.7,272.3 284.9,275.0C283.1,277.7 283.1,277.4 280.7,280.1C278.2,282.8 276.3,282.4 275.6,285.1C275.0,287.8 276.4,287.9 278.2,290.1C279.9,292.4 279.9,291.3 282.3,293.5C284.8,295.7 284.9,296.4 287.4,298.5C289.8,300.7 290.4,300.8 291.5,301.6"/>
<path d="M275.6,314.5C275.6,314.2 278.4,313.3 279.0,313.3C279.6,313.3 282.6,314.2 282.7,314.5C282.8,314.7 280.4,316.6 279.8,316.6C279.2,316.6 275.7,314.7 275.6,314.5Z"/>
<path d="M180.0,307.8C181.6,308.2 183.9,307.4 185.9,309.4C187.9,311.4 186.4,311.9 187.6,315.3C188.7,318.7 187.8,318.4 190.1,322.0C192.3,325.6 193.6,326.2 195.9,328.7C198.2,331.3 198.0,330.8 198.7,331.5"/>
<path d="M228.9,331.5C229.2,330.3 231.5,329.8 230.3,327.0C229.2,324.3 226.9,324.3 224.5,321.2C222.0,318.0 223.3,317.8 221.1,315.3C218.9,312.8 219.0,312.6 216.1,311.9C213.2,311.3 213.6,312.3 210.2,312.8C206.8,313.2 206.6,313.0 203.5,313.6C200.4,314.3 199.1,313.7 198.5,315.3C197.8,316.9 200.7,317.5 201.0,319.5C201.2,321.5 198.2,320.8 199.3,322.9C200.4,324.9 202.0,326.4 205.2,327.0C208.3,327.7 207.9,324.9 211.0,325.4C214.2,325.8 214.8,327.1 216.9,328.7C219.1,330.4 218.5,330.8 219.1,331.5"/>
<path d="M210.2,319.5C210.4,319.1 213.8,317.7 214.4,317.8C215.0,317.9 216.8,319.8 216.9,320.3C217.0,320.8 215.7,323.6 215.2,323.7C214.8,323.8 212.3,322.4 211.9,322.0C211.5,321.7 210.0,319.8 210.2,319.5Z"/>
<path d="M264.9,331.5C264.8,331.2 264.1,332.0 264.7,330.4C265.4,328.8 264.8,327.2 267.2,325.4C269.7,323.6 270.8,323.7 274.0,323.7C277.1,323.7 276.8,323.6 279.0,325.4C281.2,327.2 281.5,328.8 282.3,330.4C283.2,332.0 282.2,331.2 282.1,331.5"/>
<path d="M271.5,331.5C271.9,331.2 272.6,330.4 273.1,330.4C273.7,330.4 273.4,331.2 273.6,331.5"/>
<path d="M315.2,270.0C316.1,271.8 316.3,272.9 318.5,276.7C320.8,280.5 324.0,281.8 323.6,284.3C323.1,286.7 320.4,285.7 316.8,285.9C313.3,286.2 312.6,283.5 310.1,285.1C307.7,286.7 307.2,288.7 307.6,291.8C308.1,294.9 308.9,294.6 311.8,296.8C314.7,299.1 315.2,298.4 318.5,300.2C321.9,302.0 322.4,300.9 324.4,303.6C326.4,306.2 326.7,306.2 326.1,310.3C325.4,314.3 323.2,315.1 321.9,318.7C320.5,322.2 320.1,323.7 321.0,323.7C321.9,323.7 322.3,321.1 325.2,318.7C328.1,316.2 328.4,314.5 331.9,314.5C335.5,314.5 335.5,315.7 338.7,318.7C341.8,321.6 341.1,321.9 343.7,325.4C346.3,328.8 347.1,329.9 348.3,331.5"/>
<path d="M340.3,270.0C339.4,271.8 337.7,272.7 337.0,276.7C336.3,280.7 336.0,281.1 337.8,285.1C339.6,289.1 341.7,288.2 343.7,291.8C345.7,295.4 344.0,294.9 345.4,298.5C346.7,302.1 348.1,302.1 348.7,305.2C349.4,308.4 346.5,307.6 347.9,310.3C349.2,313.0 350.4,312.6 353.8,315.3C357.1,318.0 357.3,317.7 360.5,320.3C363.6,323.0 362.9,322.4 365.5,325.4C368.1,328.3 368.9,329.9 370.1,331.5"/>
<path d="M347.9,270.0C346.8,272.2 345.3,274.4 343.7,278.4C342.1,282.4 341.3,282.4 342.0,285.1C342.7,287.8 343.5,287.1 346.2,288.5C348.9,289.8 351.2,288.3 352.1,290.1C353.0,291.9 349.1,292.0 349.6,295.2C350.0,298.3 351.7,298.3 353.8,301.9C355.8,305.5 354.4,305.9 357.1,308.6C359.8,311.3 360.7,309.3 363.8,311.9C367.0,314.6 366.2,315.1 368.9,318.7C371.5,322.2 370.9,321.9 373.9,325.4C376.9,328.8 378.4,329.9 380.0,331.5"/>
<path d="M363.8,270.0C364.7,270.9 367.2,271.3 367.2,273.4C367.2,275.4 365.6,275.8 363.8,277.6C362.0,279.3 362.7,279.8 360.5,280.1C358.2,280.3 358.1,279.7 355.4,278.4C352.8,277.0 351.7,275.9 350.4,275.0"/>
<path d="M305.1,270.0C304.2,272.2 303.8,273.9 301.7,278.4C299.7,282.9 298.9,282.8 297.6,286.8C296.2,290.8 295.6,290.4 296.7,293.5C297.8,296.6 298.6,295.8 301.7,298.5C304.9,301.2 304.9,300.4 308.5,303.6C312.0,306.7 312.9,306.2 315.2,310.3C317.4,314.3 316.8,314.2 316.8,318.7C316.8,323.1 316.0,323.6 315.2,327.0C314.4,330.5 314.2,330.3 313.8,331.5"/>
<path d="M290.0,298.5C291.3,299.4 292.3,299.2 295.0,301.9C297.7,304.6 298.1,304.6 300.1,308.6C302.1,312.6 302.1,312.5 302.6,317.0C303.0,321.5 301.5,321.5 301.7,325.4C302.0,329.2 303.1,329.9 303.6,331.5"/>
<path d="M290.0,311.9C290.9,312.8 291.6,312.2 293.4,315.3C295.1,318.4 296.0,319.4 296.7,323.7C297.4,328.0 296.1,329.4 295.9,331.5"/>
<path d="M395.7,270.0C396.2,271.3 398.7,271.9 397.4,275.0C396.0,278.2 394.3,278.2 390.7,281.7C387.1,285.3 387.5,285.3 384.0,288.5C380.4,291.6 379.5,291.5 377.2,293.5C375.0,295.5 374.7,294.4 375.6,296.0C376.5,297.6 377.9,296.9 380.6,299.4C383.3,301.8 383.0,302.1 385.6,305.2C388.3,308.4 388.0,308.6 390.7,311.1C393.4,313.6 393.5,315.1 395.7,314.5C397.9,313.8 397.7,312.4 399.1,308.6C400.4,304.8 400.7,304.2 400.7,300.2C400.7,296.2 398.9,296.1 399.1,293.5C399.3,290.9 400.8,291.3 401.5,290.4"/>
<path d="M401.5,327.3C400.4,328.1 398.8,329.3 397.4,330.4C396.0,331.5 396.6,331.2 396.3,331.5"/>
<path d="M328.9,270.0C329.1,274.0 329.2,285.1 329.6,285.1C330.0,285.1 330.1,274.0 330.3,270.0"/>
<path d="M329.0,331.5C329.8,330.3 329.8,328.7 331.9,327.0C334.1,325.4 334.7,324.5 337.0,325.4C339.2,326.3 339.3,328.8 340.3,330.4C341.4,332.0 340.7,331.2 340.8,331.5"/>
<path d="M410.7,269.0C411.2,270.7 410.7,271.9 412.6,275.3C414.4,278.7 415.3,278.6 417.6,281.6C420.0,284.6 420.2,283.9 421.4,286.6C422.6,289.3 422.7,289.0 422.0,291.7C421.4,294.4 421.1,294.4 418.9,296.7C416.7,299.1 416.4,298.5 413.9,300.5C411.3,302.5 411.1,303.6 409.4,304.3C407.8,304.9 408.4,305.7 407.6,303.0C406.7,300.3 407.6,297.9 406.3,294.2C405.0,290.5 404.2,290.5 402.5,289.2C400.8,287.8 400.7,289.2 400.0,289.2"/>
<path d="M420.2,269.0C420.5,270.3 420.4,273.4 421.4,274.0C422.4,274.7 423.1,272.9 423.9,271.5C424.8,270.2 424.4,269.7 424.6,269.0"/>
<path d="M434.6,269.0C435.1,270.3 434.7,273.0 436.5,274.0C438.4,275.0 439.7,274.1 441.6,272.8C443.4,271.4 442.9,270.0 443.5,269.0"/>
<path d="M470.5,275.9C468.8,276.4 468.3,276.6 464.2,277.8C460.2,279.0 458.6,279.0 455.4,280.3C452.2,281.7 452.8,280.5 452.3,282.9C451.8,285.2 454.0,286.6 453.5,289.2C453.0,291.7 452.4,290.6 450.4,292.3C448.4,294.0 448.2,293.6 446.0,295.4C443.8,297.3 443.4,297.2 442.2,299.2C441.0,301.2 440.7,301.8 441.6,303.0C442.4,304.2 443.2,303.8 445.3,303.6C447.5,303.5 449.1,301.7 449.7,302.4C450.4,303.0 449.4,304.0 447.9,306.2C446.3,308.3 446.8,308.9 444.1,310.6C441.4,312.2 440.3,311.1 437.8,312.5C435.3,313.8 435.6,313.6 434.6,315.6C433.6,317.6 434.2,318.8 434.0,320.0"/>
<path d="M470.5,283.5C469.2,283.8 467.8,283.7 465.5,284.7C463.1,285.8 463.1,284.7 461.7,287.3C460.4,289.8 461.1,291.0 460.5,294.2C459.8,297.4 458.5,296.9 459.2,299.2C459.9,301.6 463.0,301.0 463.0,303.0C463.0,305.0 461.2,304.4 459.2,306.8C457.2,309.1 457.4,309.5 455.4,311.8C453.4,314.2 453.7,313.4 451.6,315.6C449.6,317.8 448.9,318.8 447.9,320.0"/>
<path d="M470.5,301.7C469.7,302.8 469.4,303.2 467.4,305.5C465.4,307.9 465.2,307.9 463.0,310.6C460.8,313.2 460.9,313.1 459.2,315.6C457.5,318.1 457.3,318.8 456.7,320.0"/>
<path d="M467.4,290.4C467.5,290.2 468.9,289.8 469.0,290.2C469.1,290.5 468.8,294.0 468.6,294.2C468.5,294.4 467.7,293.2 467.6,292.9C467.5,292.6 467.3,290.6 467.4,290.4Z"/>
<path d="M452.6,298.6C452.9,298.5 455.2,298.2 455.4,298.2C455.6,298.3 455.6,299.1 455.4,299.2C455.2,299.3 453.1,299.5 452.9,299.5C452.7,299.4 452.4,298.7 452.6,298.6Z"/>
<path d="M410.7,320.0C411.5,318.8 412.0,317.4 413.9,315.6C415.7,313.8 415.8,312.7 417.6,313.1C419.5,313.4 419.6,315.0 420.8,316.9C422.0,318.7 421.7,319.2 422.0,320.0"/>
<path d="M400.0,231.2C401.3,231.6 402.7,231.3 405.0,232.5C407.4,233.7 407.6,234.1 408.8,235.6C410.0,237.1 410.5,237.0 409.4,238.2C408.4,239.3 407.6,239.4 405.0,240.0C402.5,240.7 401.3,240.5 400.0,240.7"/>
<path d="M423.3,218.0C423.1,219.0 422.3,219.4 422.7,221.8C423.0,224.1 423.4,226.8 424.6,226.8C425.7,226.8 426.2,224.1 427.1,221.8C427.9,219.4 427.5,219.0 427.7,218.0"/>
<path d="M436.5,218.0C437.5,218.8 438.1,220.0 440.3,221.1C442.5,222.3 442.7,222.7 444.7,222.4C446.7,222.1 447.2,221.1 447.9,219.9C448.5,218.7 447.4,218.5 447.2,218.0"/>
<path d="M459.2,218.0C458.7,219.3 458.6,220.4 457.3,223.0C456.0,225.7 456.0,225.4 454.2,228.1C452.3,230.8 451.9,230.1 450.4,233.1C448.9,236.1 449.2,236.9 448.5,239.4C447.8,241.9 447.0,242.1 447.9,242.6C448.7,243.1 449.6,242.3 451.6,241.3C453.7,240.3 453.6,240.0 455.4,238.8C457.3,237.6 458.2,236.1 458.6,236.9C458.9,237.7 457.9,239.6 456.7,241.9C455.5,244.3 455.5,243.7 454.2,245.7C452.8,247.7 450.8,247.0 451.6,249.5C452.5,252.0 455.3,254.8 457.3,255.2C459.3,255.5 458.0,253.3 459.2,250.7C460.4,248.2 460.7,248.4 461.7,245.7C462.7,243.0 463.0,243.4 463.0,240.7C463.0,238.0 462.7,238.0 461.7,235.6C460.7,233.3 459.5,233.5 459.2,231.9C458.9,230.2 458.8,230.5 460.5,229.3C462.1,228.2 463.1,228.5 465.5,227.4C467.8,226.4 468.4,227.1 469.3,225.6C470.1,224.0 469.6,223.5 468.6,221.8C467.6,220.1 467.0,220.3 465.5,219.3C464.0,218.3 463.6,218.3 463.0,218.0"/>
<path d="M418.3,244.4C418.3,243.9 420.4,241.9 420.8,241.9C421.1,242.0 422.7,244.6 422.7,245.1C422.7,245.6 421.1,248.0 420.8,248.0C420.4,247.9 418.3,245.0 418.3,244.4Z"/>
<path d="M436.5,251.4C435.9,252.6 435.3,253.6 434.0,255.8C432.7,258.0 433.3,257.9 431.5,259.6C429.6,261.2 428.9,260.4 427.1,262.1C425.2,263.8 425.6,264.0 424.6,265.9C423.6,267.7 423.6,268.2 423.3,269.0"/>
<path d="M437.8,251.4C437.6,252.6 437.5,252.9 437.2,255.8C436.8,258.6 436.9,258.6 436.5,262.1C436.2,265.6 436.1,267.2 435.9,269.0"/>
<path d="M412.0,269.0C412.3,267.8 412.0,266.6 413.2,264.6C414.4,262.6 414.9,261.8 416.4,261.5C417.9,261.1 417.9,261.3 418.9,263.3C419.9,265.4 419.8,267.5 420.2,269.0"/>
<path d="M442.8,269.0C443.8,267.8 444.6,266.4 446.6,264.6C448.6,262.8 448.4,261.9 450.4,262.1C452.4,262.2 451.8,264.1 454.2,265.2C456.5,266.4 456.2,266.3 459.2,266.5C462.2,266.7 462.8,267.0 465.5,265.9C468.2,264.7 467.9,264.8 469.3,262.1C470.6,259.4 470.0,260.5 470.5,255.8C471.0,251.1 471.0,247.5 471.2,244.4"/>
<path d="M123.7,285.0C122.3,286.1 121.8,287.9 118.7,289.2C115.5,290.5 112.6,288.5 111.9,290.0C111.3,291.6 113.0,293.3 116.1,295.1C119.3,296.9 120.8,295.0 123.7,296.7C126.6,298.5 127.9,300.0 127.0,301.8C126.2,303.6 123.5,302.1 120.3,303.5C117.2,304.8 116.9,304.6 115.3,306.8C113.7,309.0 113.6,309.6 114.5,311.8C115.4,314.1 116.2,312.7 118.7,315.2C121.1,317.7 121.2,321.1 123.7,321.1C126.2,321.1 125.0,317.7 127.9,315.2C130.8,312.7 132.4,314.5 134.6,311.8C136.8,309.2 134.3,307.8 136.3,305.1C138.3,302.4 139.2,303.3 142.1,301.8C145.1,300.2 146.3,301.1 147.2,299.3C148.1,297.5 147.3,296.9 145.5,295.1C143.7,293.3 141.6,294.3 140.5,292.6C139.4,290.8 141.8,290.4 141.3,288.4C140.9,286.3 139.5,285.9 138.8,285.0"/>
<path d="M157.2,285.0C157.9,286.6 158.0,288.9 159.8,290.9C161.6,292.9 161.7,291.9 164.0,292.6C166.2,293.2 166.4,291.4 168.2,293.4C169.9,295.4 168.9,297.0 170.7,300.1C172.5,303.2 172.2,303.1 174.9,305.1C177.6,307.1 177.8,306.3 180.7,307.7C183.6,309.0 184.0,308.2 185.8,310.2C187.6,312.2 187.2,312.5 187.4,315.2C187.7,317.9 185.9,317.8 186.6,320.2C187.3,322.7 189.1,323.3 190.0,324.4"/>
<path d="M154.7,298.4C154.7,299.0 154.6,299.1 154.2,299.6C153.8,300.0 153.7,300.0 153.1,300.0C152.5,300.0 152.3,300.0 151.9,299.6C151.5,299.1 151.5,299.0 151.5,298.4C151.5,297.8 151.5,297.7 151.9,297.3C152.3,296.9 152.5,296.8 153.1,296.8C153.7,296.8 153.8,296.9 154.2,297.3C154.6,297.7 154.7,297.8 154.7,298.4Z"/>
<path d="M179.6,339.9C179.6,340.2 179.5,340.3 179.3,340.6C179.0,340.8 178.9,340.9 178.6,340.9C178.2,340.9 178.1,340.8 177.8,340.6C177.6,340.3 177.6,340.2 177.6,339.9C177.6,339.5 177.6,339.4 177.8,339.2C178.1,338.9 178.2,338.9 178.6,338.9C178.9,338.9 179.0,338.9 179.3,339.2C179.5,339.4 179.6,339.5 179.6,339.9Z"/>
<path d="M75.9,342.6C77.2,342.3 78.7,341.0 80.9,341.4C83.1,341.9 83.6,342.2 84.3,344.3C84.9,346.4 82.8,346.6 83.4,349.3C84.1,352.0 83.6,351.9 86.8,354.3C89.9,356.8 90.9,356.7 95.2,358.5C99.4,360.3 99.8,359.3 102.7,361.0C105.6,362.8 105.6,362.3 106.1,365.2C106.5,368.1 106.2,369.3 104.4,371.9C102.6,374.6 101.8,375.3 99.4,375.3C96.9,375.3 97.6,374.4 95.2,371.9C92.7,369.5 92.8,368.5 90.1,366.1C87.4,363.6 87.8,362.9 85.1,362.7C82.4,362.5 82.3,365.7 80.1,365.2C77.8,364.8 77.8,363.7 76.7,361.0C75.6,358.4 76.1,356.7 75.9,355.2"/>
<path d="M119.5,387.0C120.2,385.7 119.8,384.9 122.0,382.0C124.3,379.1 125.6,376.6 127.9,376.1C130.1,375.7 130.0,377.4 130.4,380.3C130.9,383.2 129.8,385.3 129.6,387.0"/>
<path d="M132.9,387.0C133.4,386.2 133.0,384.9 134.6,383.7C136.2,382.4 136.6,382.3 138.8,382.3C141.0,382.3 141.4,382.4 143.0,383.7C144.6,384.9 144.2,386.2 144.7,387.0"/>
<path d="M193.4,330.0C195.7,331.3 198.2,332.3 201.8,335.0C205.4,337.7 205.3,337.4 206.8,340.1C208.4,342.8 208.6,342.0 207.7,345.1C206.8,348.2 204.8,348.9 203.5,351.8C202.1,354.7 201.8,354.4 202.7,356.0C203.5,357.6 204.6,357.9 206.8,357.7C209.1,357.5 209.3,353.6 211.0,355.2C212.8,356.7 212.2,359.1 213.6,363.6C214.9,368.0 215.9,367.5 216.1,371.9C216.3,376.4 214.6,376.3 214.4,380.3C214.2,384.4 215.0,385.3 215.2,387.0"/>
<path d="M210.2,330.0C211.1,331.3 210.9,333.0 213.6,335.0C216.2,337.0 217.4,335.8 220.3,337.6C223.2,339.3 221.8,340.4 224.5,341.7C227.1,343.1 227.9,343.5 230.3,342.6C232.8,341.7 232.3,337.7 233.7,338.4C235.0,339.1 234.3,341.5 235.4,345.1C236.5,348.7 237.9,347.8 237.9,351.8C237.9,355.8 236.9,355.7 235.4,360.2C233.8,364.7 233.4,364.1 232.0,368.6C230.7,373.1 230.3,373.0 230.3,377.0C230.3,381.0 231.8,381.0 232.0,383.7C232.2,386.4 231.4,386.2 231.2,387.0"/>
<path d="M228.7,330.0C229.1,331.3 230.6,332.3 230.3,335.0C230.1,337.7 228.5,338.7 227.8,340.1"/>
<path d="M248.8,330.0C249.0,331.8 247.8,334.0 249.6,336.7C251.4,339.4 252.1,338.7 255.5,340.1C258.9,341.4 258.6,342.0 262.2,341.7C265.8,341.5 266.2,341.5 268.9,339.2C271.6,337.0 271.6,335.8 272.3,333.4C273.0,330.9 271.7,330.9 271.4,330.0"/>
<path d="M272.3,333.4C272.5,335.1 274.0,336.5 273.1,340.1C272.2,343.6 271.4,342.8 268.9,346.8C266.5,350.8 266.6,351.4 263.9,355.2C261.2,359.0 261.8,358.6 258.9,361.0C256.0,363.5 253.9,361.9 253.0,364.4C252.1,366.9 253.9,367.8 255.5,370.3C257.1,372.7 259.1,372.5 258.9,373.6C258.6,374.7 257.1,374.7 254.7,374.5C252.2,374.2 252.3,373.2 249.6,372.8C246.9,372.3 245.5,372.3 244.6,372.8C243.7,373.2 244.5,373.8 246.3,374.5C248.1,375.1 249.1,373.7 251.3,375.3C253.5,376.9 253.1,377.2 254.7,380.3C256.2,383.5 256.5,385.3 257.2,387.0"/>
<path d="M267.2,342.6C265.5,343.3 264.1,344.0 260.5,345.1C257.0,346.2 257.4,346.1 253.8,346.8C250.2,347.4 249.6,346.3 247.1,347.6C244.7,349.0 244.6,348.9 244.6,351.8C244.6,354.7 247.1,355.4 247.1,358.5C247.1,361.7 246.4,361.1 244.6,363.6C242.8,366.0 242.2,365.5 240.4,367.8C238.6,370.0 237.7,369.5 237.9,371.9C238.1,374.4 238.8,374.7 241.2,377.0C243.7,379.2 244.9,377.7 247.1,380.3C249.4,383.0 249.0,385.3 249.6,387.0"/>
<path d="M280.7,330.0C281.1,331.8 280.6,334.0 282.3,336.7C284.1,339.4 284.9,339.7 287.4,340.1C289.8,340.4 290.4,338.6 291.5,338.0"/>
<path d="M291.5,352.0C290.8,351.5 291.1,350.2 289.1,350.1C287.1,350.1 285.8,350.5 284.0,351.8C282.2,353.2 283.7,356.1 282.3,355.2C281.0,354.3 279.4,352.0 279.0,348.5C278.5,344.9 279.8,344.9 280.7,341.7C281.6,338.6 281.9,338.1 282.3,336.7"/>
<path d="M236.2,387.0C235.5,386.2 235.0,383.7 233.7,383.7C232.3,383.7 231.8,386.2 231.2,387.0"/>
<path d="M288.5,353.6C290.9,352.7 294.4,348.1 297.5,350.2C300.6,352.4 298.7,360.5 300.0,361.5C301.3,362.5 302.2,359.3 302.5,354.0C302.8,348.7 301.2,347.5 301.2,341.5C301.2,335.5 302.4,335.0 302.5,331.5C302.6,328.0 302.0,329.3 301.8,328.5"/>
<path d="M311.9,328.5C311.8,330.0 310.4,329.9 311.2,334.0C312.1,338.1 312.7,342.7 315.0,344.0C317.3,345.3 317.0,343.0 320.0,339.0C323.0,335.0 324.5,331.8 326.2,329.0C328.0,326.2 326.5,328.6 326.6,328.5"/>
<path d="M347.3,328.5C348.0,330.0 349.9,330.5 350.0,334.0C350.1,337.5 346.2,338.8 347.5,341.5C348.8,344.2 351.0,344.7 355.0,344.0C359.0,343.3 358.5,339.0 362.5,339.0C366.5,339.0 366.3,341.3 370.0,344.0C373.7,346.7 372.2,347.0 376.2,349.0C380.2,351.0 382.7,350.8 385.0,351.5"/>
<path d="M322.5,386.5C322.8,383.8 322.4,381.8 323.8,376.5C325.1,371.2 325.5,371.5 327.5,366.5C329.5,361.5 328.6,361.4 331.2,357.8C333.9,354.1 333.8,354.8 337.5,352.8C341.2,350.8 342.3,349.9 345.0,350.2C347.7,350.6 348.8,352.0 347.5,354.0C346.2,356.0 343.7,355.4 340.0,357.8C336.3,360.1 335.8,359.8 333.8,362.8C331.8,365.8 331.2,367.0 332.5,369.0C333.8,371.0 334.8,370.6 338.8,370.2C342.8,369.9 342.8,367.8 347.5,367.8C352.2,367.8 351.6,368.9 356.2,370.2C360.9,371.6 360.0,373.1 365.0,372.8C370.0,372.4 371.0,372.3 375.0,369.0C379.0,365.7 377.3,364.6 380.0,360.2C382.7,355.9 381.7,354.1 385.0,352.8C388.3,351.4 388.5,354.2 392.5,355.2C396.5,356.2 397.6,356.2 400.0,356.5C402.4,356.8 401.1,356.5 401.5,356.5"/>
<path d="M401.5,357.6C401.1,357.7 402.4,357.1 400.0,357.8C397.6,358.4 395.2,357.9 392.5,360.2C389.8,362.6 389.3,363.2 390.0,366.5C390.7,369.8 392.3,369.4 395.0,372.8C397.7,376.1 399.0,375.3 400.0,379.0C401.0,382.7 399.1,384.5 398.8,386.5"/>
<path d="M377.5,386.5C378.2,384.5 377.7,382.3 380.0,379.0C382.3,375.7 383.6,374.0 386.2,374.0C388.9,374.0 388.3,375.7 390.0,379.0C391.7,382.3 391.8,384.5 392.5,386.5"/>
<path d="M377.7,328.5C379.6,330.0 380.4,331.2 385.0,334.0C389.6,336.8 390.6,336.8 395.0,339.0C399.4,341.2 399.8,341.4 401.5,342.2"/>
<path d="M392.5,367.8C392.8,367.4 397.0,366.4 397.5,366.5C398.0,366.6 399.1,369.2 398.8,369.5C398.4,369.8 394.3,370.4 393.8,370.2C393.2,370.1 392.2,368.1 392.5,367.8Z"/>
<path d="M400.0,357.8C402.2,357.5 404.5,357.2 408.4,356.7C412.3,356.3 414.7,356.5 414.7,356.1C414.7,355.7 412.3,355.6 408.4,355.3C404.5,354.9 402.2,354.8 400.0,354.6"/>
<path d="M412.6,320.0C413.7,322.2 416.2,323.9 416.8,328.4C417.3,332.9 416.4,332.9 414.7,336.8C413.0,340.7 411.9,339.7 410.5,343.1C409.1,346.4 408.0,347.1 409.4,349.4C410.8,351.6 411.5,351.2 415.7,351.5C419.9,351.8 420.4,351.5 425.2,350.4C429.9,349.3 429.9,347.0 433.6,347.3C437.2,347.6 436.0,349.8 438.8,351.5C441.6,353.2 441.8,355.3 444.1,353.6C446.3,351.9 445.8,350.2 447.2,345.2C448.6,340.1 447.9,338.6 449.3,334.7C450.7,330.8 450.8,330.5 452.5,330.5C454.1,330.5 454.5,331.3 455.6,334.7C456.7,338.0 455.3,339.2 456.7,343.1C458.1,347.0 458.1,347.1 460.9,349.4C463.7,351.6 464.4,352.6 467.2,351.5C470.0,350.4 470.2,346.9 471.4,345.2"/>
<path d="M400.0,362.0C402.2,362.3 403.4,363.3 408.4,363.0C413.4,362.7 413.3,361.8 418.9,360.9C424.5,360.1 424.3,359.0 429.4,359.9C434.4,360.7 433.3,362.1 437.8,364.1C442.3,366.0 441.7,366.9 446.2,367.2C450.6,367.5 450.6,367.1 454.6,365.1C458.5,363.2 458.6,360.2 460.9,359.9C463.1,359.6 463.2,362.1 463.0,364.1C462.7,366.0 462.6,366.0 459.8,367.2C457.0,368.5 454.4,368.3 452.5,368.7"/>
<path d="M419.9,387.2C420.2,384.4 420.1,381.1 421.0,376.7C421.8,372.2 421.4,372.6 423.1,370.4C424.8,368.1 425.0,367.7 427.3,368.3C429.5,368.8 429.8,369.1 431.5,372.5C433.2,375.8 431.9,379.7 433.6,380.9C435.3,382.0 434.4,378.3 437.8,376.7C441.1,375.0 441.7,374.6 446.2,374.6C450.6,374.6 450.1,376.7 454.6,376.7C459.0,376.7 459.0,376.8 463.0,374.6C466.9,372.3 467.0,370.5 469.3,368.3C471.5,366.0 470.8,366.7 471.4,366.2"/>
<path d="M425.2,320.0C425.7,322.2 425.6,323.9 427.3,328.4C429.0,332.9 428.1,333.7 431.5,336.8C434.8,339.9 437.1,341.1 439.9,339.9C442.7,338.8 440.6,336.8 442.0,332.6C443.4,328.4 444.6,327.6 445.1,324.2C445.7,320.8 444.4,321.1 444.1,320.0"/>
<path d="M464.0,330.5C464.8,331.6 465.5,334.1 467.2,334.7C468.8,335.3 469.5,333.2 470.3,332.6"/>
<path d="M465.1,343.1C465.9,344.2 466.5,347.8 468.2,347.3C469.9,346.7 470.5,342.7 471.4,341.0"/>
<path d="M400.0,343.1C401.7,342.8 403.2,341.6 406.3,342.0C409.4,342.5 411.5,343.6 411.5,344.8C411.5,345.9 409.4,346.1 406.3,346.2C403.2,346.3 401.7,345.5 400.0,345.2"/>
<path d="M433.5,120.0C433.1,122.6 431.9,124.0 432.2,129.9C432.6,135.8 434.4,135.6 434.7,142.2C435.0,148.8 433.1,148.0 433.5,154.6C433.8,161.2 434.9,161.0 435.9,166.9C436.9,172.8 435.5,171.5 437.2,176.8C438.8,182.1 439.5,182.7 442.1,186.7C444.7,190.6 445.1,192.3 447.0,191.6C449.0,190.9 447.2,184.9 449.5,184.2C451.8,183.5 453.4,190.5 455.7,189.1C458.0,187.8 456.2,183.5 458.1,179.3C460.1,175.0 460.1,175.7 463.1,173.1C466.0,170.5 467.6,170.4 469.3,169.4"/>
<path d="M449.5,120.0C448.8,122.0 449.3,123.5 447.0,127.4C444.7,131.4 442.2,130.2 440.9,134.8C439.5,139.4 442.1,139.4 442.1,144.7C442.1,150.0 439.5,150.3 440.9,154.6C442.2,158.8 444.4,160.1 447.0,160.7C449.7,161.4 450.1,160.7 450.7,157.0C451.4,153.4 449.2,153.1 449.5,147.2C449.8,141.2 450.7,140.7 452.0,134.8C453.3,128.9 453.7,128.9 454.4,124.9C455.2,121.0 454.8,121.3 454.9,120.0"/>
<path d="M426.0,164.4C425.7,168.4 424.2,173.3 424.8,179.3C425.5,185.2 426.5,182.7 428.5,186.7C430.5,190.6 429.9,190.8 432.2,194.1C434.5,197.4 433.9,197.0 437.2,199.0C440.5,201.0 440.3,201.2 444.6,201.5C448.8,201.8 453.2,199.6 453.2,200.2C453.2,200.9 448.8,202.6 444.6,204.0C440.3,205.3 440.1,203.2 437.2,205.2C434.2,207.2 435.4,207.7 433.5,211.4C431.5,215.0 430.7,216.8 429.8,218.8"/>
<path d="M469.3,129.9 L468.8,133.6"/>
<path d="M447.0,169.4 L448.3,171.9"/>
<path d="M461.4,166.9 L461.9,169.4"/>
<path d="M456.9,196.0C456.9,195.8 462.1,194.8 463.1,194.8C464.1,194.8 469.3,195.6 469.3,195.8C469.3,196.0 464.1,197.3 463.1,197.3C462.1,197.3 456.9,196.3 456.9,196.0Z"/>
<path d="M424.8,207.7C427.4,206.7 430.7,204.0 434.7,204.0C438.6,204.0 436.3,207.3 439.6,207.7C442.9,208.0 441.8,205.5 447.0,205.2C452.3,204.9 453.1,206.7 459.4,206.4C465.6,206.1 467.5,204.6 470.5,204.0"/>
<path d="M427.3,220.0C428.6,218.4 429.6,214.5 432.2,213.8C434.9,213.2 434.9,215.9 437.2,217.5C439.5,219.2 439.9,219.3 440.9,220.0"/>
<path d="M456.9,220.0C458.2,218.7 459.2,215.1 461.9,215.1C464.5,215.1 465.5,218.7 466.8,220.0"/>
</g>
</g>
<rect x="75.55" y="42.75" width="396.3" height="344.4" fill="none" stroke="#4575C2" stroke-width="1.25"/>
<g stroke="#555" stroke-width="0.6">
<line x1="76" y1="53.2" x2="79.5" y2="53.2"/>
<line x1="76" y1="102.5" x2="79.5" y2="102.5"/>
<line x1="76" y1="151.9" x2="79.5" y2="151.9"/>
<line x1="76" y1="201.2" x2="79.5" y2="201.2"/>
<line x1="76" y1="250.5" x2="79.5" y2="250.5"/>
<line x1="76" y1="299.8" x2="79.5" y2="299.8"/>
<line x1="76" y1="349.1" x2="79.5" y2="349.1"/>
<line x1="89.3" y1="387" x2="89.3" y2="383.5"/>
<line x1="133.2" y1="387" x2="133.2" y2="383.5"/>
<line x1="177.1" y1="387" x2="177.1" y2="383.5"/>
<line x1="221.0" y1="387" x2="221.0" y2="383.5"/>
<line x1="264.9" y1="387" x2="264.9" y2="383.5"/>
<line x1="308.8" y1="387" x2="308.8" y2="383.5"/>
<line x1="352.7" y1="387" x2="352.7" y2="383.5"/>
<line x1="396.6" y1="387" x2="396.6" y2="383.5"/>
<line x1="440.5" y1="387" x2="440.5" y2="383.5"/>
</g>
<g font-size="7.25" fill="#333">
<text x="72.5" y="55.9" text-anchor="end">-33.2</text>
<text x="72.5" y="105.2" text-anchor="end">-33.3</text>
<text x="72.5" y="154.6" text-anchor="end">-33.4</text>
<text x="72.5" y="203.8" text-anchor="end">-33.5</text>
<text x="72.5" y="253.2" text-anchor="end">-33.6</text>
<text x="72.5" y="302.4" text-anchor="end">-33.7</text>
<text x="72.5" y="351.8" text-anchor="end">-33.8</text>
<text x="89.0" y="396.9" text-anchor="middle">-70.9</text>
<text x="132.9" y="396.9" text-anchor="middle">-70.8</text>
<text x="176.8" y="396.9" text-anchor="middle">-70.7</text>
<text x="220.7" y="396.9" text-anchor="middle">-70.6</text>
<text x="264.6" y="396.9" text-anchor="middle">-70.5</text>
<text x="308.5" y="396.9" text-anchor="middle">-70.4</text>
<text x="352.4" y="396.9" text-anchor="middle">-70.3</text>
<text x="396.3" y="396.9" text-anchor="middle">-70.2</text>
<text x="440.2" y="396.9" text-anchor="middle">-70.1</text>
</g>
<g clip-path="url(#cp)" fill-opacity="0.93">
<circle cx="132.75" cy="48.5" r="3.15" fill="#18E6EA"/>
<circle cx="163.25" cy="58.5" r="3.15" fill="#FFE40A"/>
<circle cx="169.75" cy="62.75" r="3.15" fill="#FF7200"/>
<circle cx="226" cy="54.5" r="3.15" fill="#18E6EA"/>
<circle cx="166.75" cy="77.5" r="3.15" fill="#FFE40A"/>
<circle cx="162.75" cy="87" r="3.15" fill="#E2F61E"/>
<circle cx="141.5" cy="88.25" r="3.15" fill="#00CCFF"/>
<circle cx="93" cy="93" r="3.15" fill="#18E6EA"/>
<circle cx="116.75" cy="96" r="3.15" fill="#00CCFF"/>
<circle cx="181.25" cy="97.75" r="3.15" fill="#820000"/>
<circle cx="194" cy="93.25" r="3.15" fill="#E2F61E"/>
<circle cx="198.25" cy="95" r="3.15" fill="#E2F61E"/>
<circle cx="207.5" cy="83" r="3.15" fill="#FFAE00"/>
<circle cx="211.75" cy="83" r="3.15" fill="#00CCFF"/>
<circle cx="194.25" cy="106.25" r="3.15" fill="#FF7200"/>
<circle cx="159.25" cy="107.75" r="3.15" fill="#00CCFF"/>
<circle cx="181.25" cy="112.75" r="3.15" fill="#00CCFF"/>
<circle cx="194.25" cy="112.75" r="3.15" fill="#00CCFF"/>
<circle cx="84.25" cy="122.75" r="3.15" fill="#E2F61E"/>
<circle cx="110.25" cy="121" r="3.15" fill="#18E6EA"/>
<circle cx="124.5" cy="124.25" r="3.15" fill="#00CCFF"/>
<circle cx="364.25" cy="64.5" r="3.15" fill="#FFE40A"/>
<circle cx="327.5" cy="107" r="3.15" fill="#78F582"/>
<circle cx="242.75" cy="117.5" r="3.15" fill="#820000"/>
<circle cx="253.75" cy="118.75" r="3.15" fill="#F5140A"/>
<circle cx="260.25" cy="117.25" r="3.15" fill="#FF7200"/>
<circle cx="269.25" cy="122.5" r="3.15" fill="#FF7200"/>
<circle cx="278.5" cy="121.5" r="3.15" fill="#C4F428"/>
<circle cx="282.5" cy="117" r="3.15" fill="#FF7200"/>
<circle cx="354.25" cy="118.2" r="3.15" fill="#FFE40A"/>
<circle cx="325" cy="125" r="3.15" fill="#78F582"/>
<circle cx="347" cy="128.6" r="3.15" fill="#FFAE00"/>
<circle cx="216.3" cy="142" r="3.15" fill="#820000"/>
<circle cx="229.4" cy="136.8" r="3.15" fill="#00CCFF"/>
<circle cx="257.6" cy="132.4" r="3.15" fill="#FF7200"/>
<circle cx="267.1" cy="134.1" r="3.15" fill="#00CCFF"/>
<circle cx="263.8" cy="139.8" r="3.15" fill="#FFE40A"/>
<circle cx="264.8" cy="135.8" r="3.15" fill="#F5140A"/>
<circle cx="259.6" cy="140" r="3.15" fill="#820000"/>
<circle cx="280.5" cy="137.4" r="3.15" fill="#E2F61E"/>
<circle cx="286.2" cy="137.4" r="3.15" fill="#18E6EA"/>
<circle cx="291.8" cy="136.4" r="3.15" fill="#00CCFF"/>
<circle cx="320" cy="146.5" r="3.15" fill="#FFE40A"/>
<circle cx="244.5" cy="139.8" r="3.15" fill="#00CCFF"/>
<circle cx="247.3" cy="144.5" r="3.15" fill="#00CCFF"/>
<circle cx="242.8" cy="143.3" r="3.15" fill="#F5140A"/>
<circle cx="236.4" cy="143.8" r="3.15" fill="#FFAE00"/>
<circle cx="228.3" cy="146" r="3.15" fill="#F5140A"/>
<circle cx="230.6" cy="145.3" r="3.15" fill="#F5140A"/>
<circle cx="240.3" cy="147.3" r="3.15" fill="#FF7200"/>
<circle cx="224.5" cy="149.5" r="3.15" fill="#FF7200"/>
<circle cx="249" cy="150.4" r="3.15" fill="#FFE40A"/>
<circle cx="238.3" cy="151.9" r="3.15" fill="#00CCFF"/>
<circle cx="263.8" cy="156.1" r="3.15" fill="#00CCFF"/>
<circle cx="221.3" cy="157.6" r="3.15" fill="#18E6EA"/>
<circle cx="226.5" cy="160" r="3.15" fill="#FFE40A"/>
<circle cx="236" cy="157.2" r="3.15" fill="#00CCFF"/>
<circle cx="233.4" cy="159.1" r="3.15" fill="#FFAE00"/>
<circle cx="219" cy="163.1" r="3.15" fill="#F5140A"/>
<circle cx="224" cy="163.8" r="3.15" fill="#B00000"/>
<circle cx="228.5" cy="164" r="3.15" fill="#F5140A"/>
<circle cx="234.9" cy="167.5" r="3.15" fill="#FF7200"/>
<circle cx="244.5" cy="170.3" r="3.15" fill="#FF7200"/>
<circle cx="246.3" cy="169" r="3.15" fill="#F5140A"/>
<circle cx="255.2" cy="169.2" r="3.15" fill="#FFAE00"/>
<circle cx="265.9" cy="170.8" r="3.15" fill="#FFE40A"/>
<circle cx="221.5" cy="171.3" r="3.15" fill="#F5140A"/>
<circle cx="201.7" cy="176" r="3.15" fill="#78F582"/>
<circle cx="215.1" cy="177" r="3.15" fill="#00CCFF"/>
<circle cx="221.5" cy="177.9" r="3.15" fill="#820000"/>
<circle cx="237.8" cy="174.7" r="3.15" fill="#F5140A"/>
<circle cx="234.7" cy="174.7" r="3.15" fill="#C4F428"/>
<circle cx="246.1" cy="179.2" r="3.15" fill="#FFE40A"/>
<circle cx="226.8" cy="184.3" r="3.15" fill="#FF7200"/>
<circle cx="249.7" cy="183.8" r="3.15" fill="#FFAE00"/>
<circle cx="260.4" cy="183.9" r="3.15" fill="#FFAE00"/>
<circle cx="134.25" cy="141.75" r="3.15" fill="#00CCFF"/>
<circle cx="181.75" cy="144.25" r="3.15" fill="#E2F61E"/>
<circle cx="171.75" cy="154.75" r="3.15" fill="#18E6EA"/>
<circle cx="124" cy="171.75" r="3.15" fill="#00CCFF"/>
<circle cx="115.25" cy="177" r="3.15" fill="#00CCFF"/>
<circle cx="102" cy="187" r="3.15" fill="#18E6EA"/>
<circle cx="112.5" cy="200" r="3.15" fill="#00CCFF"/>
<circle cx="156.25" cy="172.75" r="3.15" fill="#00CCFF"/>
<circle cx="160.5" cy="171" r="3.15" fill="#00CCFF"/>
<circle cx="151.75" cy="180.75" r="3.15" fill="#18E6EA"/>
<circle cx="195" cy="168.5" r="3.15" fill="#62F29A"/>
<circle cx="187" cy="174.75" r="3.15" fill="#62F29A"/>
<circle cx="194" cy="179.75" r="3.15" fill="#00CCFF"/>
<circle cx="187.25" cy="182" r="3.15" fill="#18E6EA"/>
<circle cx="170.5" cy="206" r="3.15" fill="#00CCFF"/>
<circle cx="199" cy="206" r="3.15" fill="#78F582"/>
<circle cx="150.5" cy="226" r="3.15" fill="#00CCFF"/>
<circle cx="122.25" cy="228.25" r="3.15" fill="#00CCFF"/>
<circle cx="99.25" cy="232.3" r="3.15" fill="#00CCFF"/>
<circle cx="242.8" cy="193.3" r="3.15" fill="#B00000"/>
<circle cx="247.8" cy="200.9" r="3.15" fill="#D8000A"/>
<circle cx="253.2" cy="201.5" r="3.15" fill="#62F29A"/>
<circle cx="257.9" cy="200.2" r="3.15" fill="#00CCFF"/>
<circle cx="259" cy="202.4" r="3.15" fill="#18E6EA"/>
<circle cx="234.1" cy="206.1" r="3.15" fill="#FF7200"/>
<circle cx="238.6" cy="206.1" r="3.15" fill="#FF7200"/>
<circle cx="251.7" cy="211.3" r="3.15" fill="#FF7200"/>
<circle cx="256.2" cy="210.9" r="3.15" fill="#FF7200"/>
<circle cx="254" cy="214.6" r="3.15" fill="#FF4400"/>
<circle cx="234.1" cy="216.1" r="3.15" fill="#E2F61E"/>
<circle cx="238.4" cy="221.2" r="3.15" fill="#FFE40A"/>
<circle cx="243.5" cy="223.5" r="3.15" fill="#E2F61E"/>
<circle cx="251.8" cy="231.3" r="3.15" fill="#FFAE00"/>
<circle cx="224.6" cy="234" r="3.15" fill="#78F582"/>
<circle cx="212.1" cy="237.3" r="3.15" fill="#3CEBBE"/>
<circle cx="369.5" cy="216.5" r="3.15" fill="#FFE40A"/>
<circle cx="424.8" cy="199" r="3.15" fill="#FFAE00"/>
<circle cx="145.75" cy="236" r="3.15" fill="#00CCFF"/>
<circle cx="89.25" cy="252.75" r="3.15" fill="#18E6EA"/>
<circle cx="132.75" cy="263" r="3.15" fill="#00CCFF"/>
<circle cx="154.5" cy="265.75" r="3.15" fill="#3CEBBE"/>
<circle cx="147.75" cy="281.5" r="3.15" fill="#18E6EA"/>
<circle cx="163.25" cy="280" r="3.15" fill="#00CCFF"/>
<circle cx="110.75" cy="285" r="3.15" fill="#00CCFF"/>
<circle cx="79.5" cy="287" r="3.15" fill="#00CCFF"/>
<circle cx="78" cy="298.25" r="3.15" fill="#00CCFF"/>
<circle cx="173.5" cy="303.75" r="3.15" fill="#00CCFF"/>
<circle cx="171.75" cy="306" r="3.15" fill="#00CCFF"/>
<circle cx="168" cy="314.5" r="3.15" fill="#00CCFF"/>
<circle cx="94.5" cy="331.5" r="3.15" fill="#00CCFF"/>
<circle cx="216.5" cy="275.75" r="3.15" fill="#00CCFF"/>
<circle cx="226.5" cy="287" r="3.15" fill="#00CCFF"/>
<circle cx="229.5" cy="319.75" r="3.15" fill="#86F45A"/>
<circle cx="242.3" cy="265.3" r="3.15" fill="#C4F428"/>
<circle cx="271" cy="246" r="3.15" fill="#FF4400"/>
<circle cx="265" cy="250.75" r="3.15" fill="#00CCFF"/>
<circle cx="306" cy="240.25" r="3.15" fill="#A4F03C"/>
<circle cx="312.25" cy="244" r="3.15" fill="#C4F428"/>
<circle cx="317.75" cy="249.75" r="3.15" fill="#00CCFF"/>
<circle cx="330.75" cy="258.25" r="3.15" fill="#78F582"/>
<circle cx="327.75" cy="269" r="3.15" fill="#78F582"/>
<circle cx="362" cy="331" r="3.15" fill="#40F0A5"/>
<circle cx="363.25" cy="334.5" r="3.15" fill="#40F0A5"/>
<circle cx="114.5" cy="349" r="3.15" fill="#00CCFF"/>
<circle cx="132.75" cy="344.5" r="3.15" fill="#00CCFF"/>
<circle cx="163.25" cy="359" r="3.15" fill="#00CCFF"/>
<circle cx="150.5" cy="369" r="3.15" fill="#00CCFF"/>
<circle cx="207.5" cy="344.5" r="3.15" fill="#00CCFF"/>
<circle cx="203.5" cy="380" r="3.15" fill="#18E6EA"/>
<circle cx="380.5" cy="340.75" r="3.15" fill="#62F29A"/>
<circle cx="392.25" cy="354.5" r="3.15" fill="#62F29A"/>
<circle cx="386.25" cy="357.75" r="3.15" fill="#3CEBBE"/>
<circle cx="397.75" cy="375.25" r="3.15" fill="#C4F428"/>
<circle cx="436.5" cy="248.2" r="3.15" fill="#FFAE00"/>
<circle cx="445.8" cy="288.5" r="3.15" fill="#C4F428"/>
<circle cx="454.1" cy="352.1" r="3.15" fill="#820000"/>
<circle cx="453.9" cy="364.3" r="3.15" fill="#E2F61E"/>
</g>
<g stroke="#1B5E7E" stroke-width="1.1" fill="#1B5E7E"><line x1="233.6" y1="184.6" x2="229.3" y2="171"/><path d="M228.3,167.6 L231.6,172.4 L227.4,173.6 Z" stroke="none"/></g>
<text x="216.6" y="200.4" font-size="11.2" fill="#111" textLength="20.4" lengthAdjust="spacingAndGlyphs">H23</text>
<rect x="380.8" y="66.8" width="37" height="142.7" fill="url(#jet)" stroke="#444" stroke-width="0.5"/>
<g stroke="#333" stroke-width="0.5"><line x1="415.3" y1="102.5" x2="417.8" y2="102.5"/><line x1="415.3" y1="138.2" x2="417.8" y2="138.2"/><line x1="415.3" y1="173.9" x2="417.8" y2="173.9"/></g>
<text x="420.3" y="70.6" font-size="9.2" fill="#111" textLength="29.4" lengthAdjust="spacingAndGlyphs">20 mm</text>
<text x="420.6" y="142" font-size="8.6" fill="#333">10</text>
<text x="420.3" y="214.4" font-size="9.5" fill="#111" font-family="Liberation Serif, serif" style="font-family:'Liberation Serif',serif">0</text>
</svg>
</body></html>
